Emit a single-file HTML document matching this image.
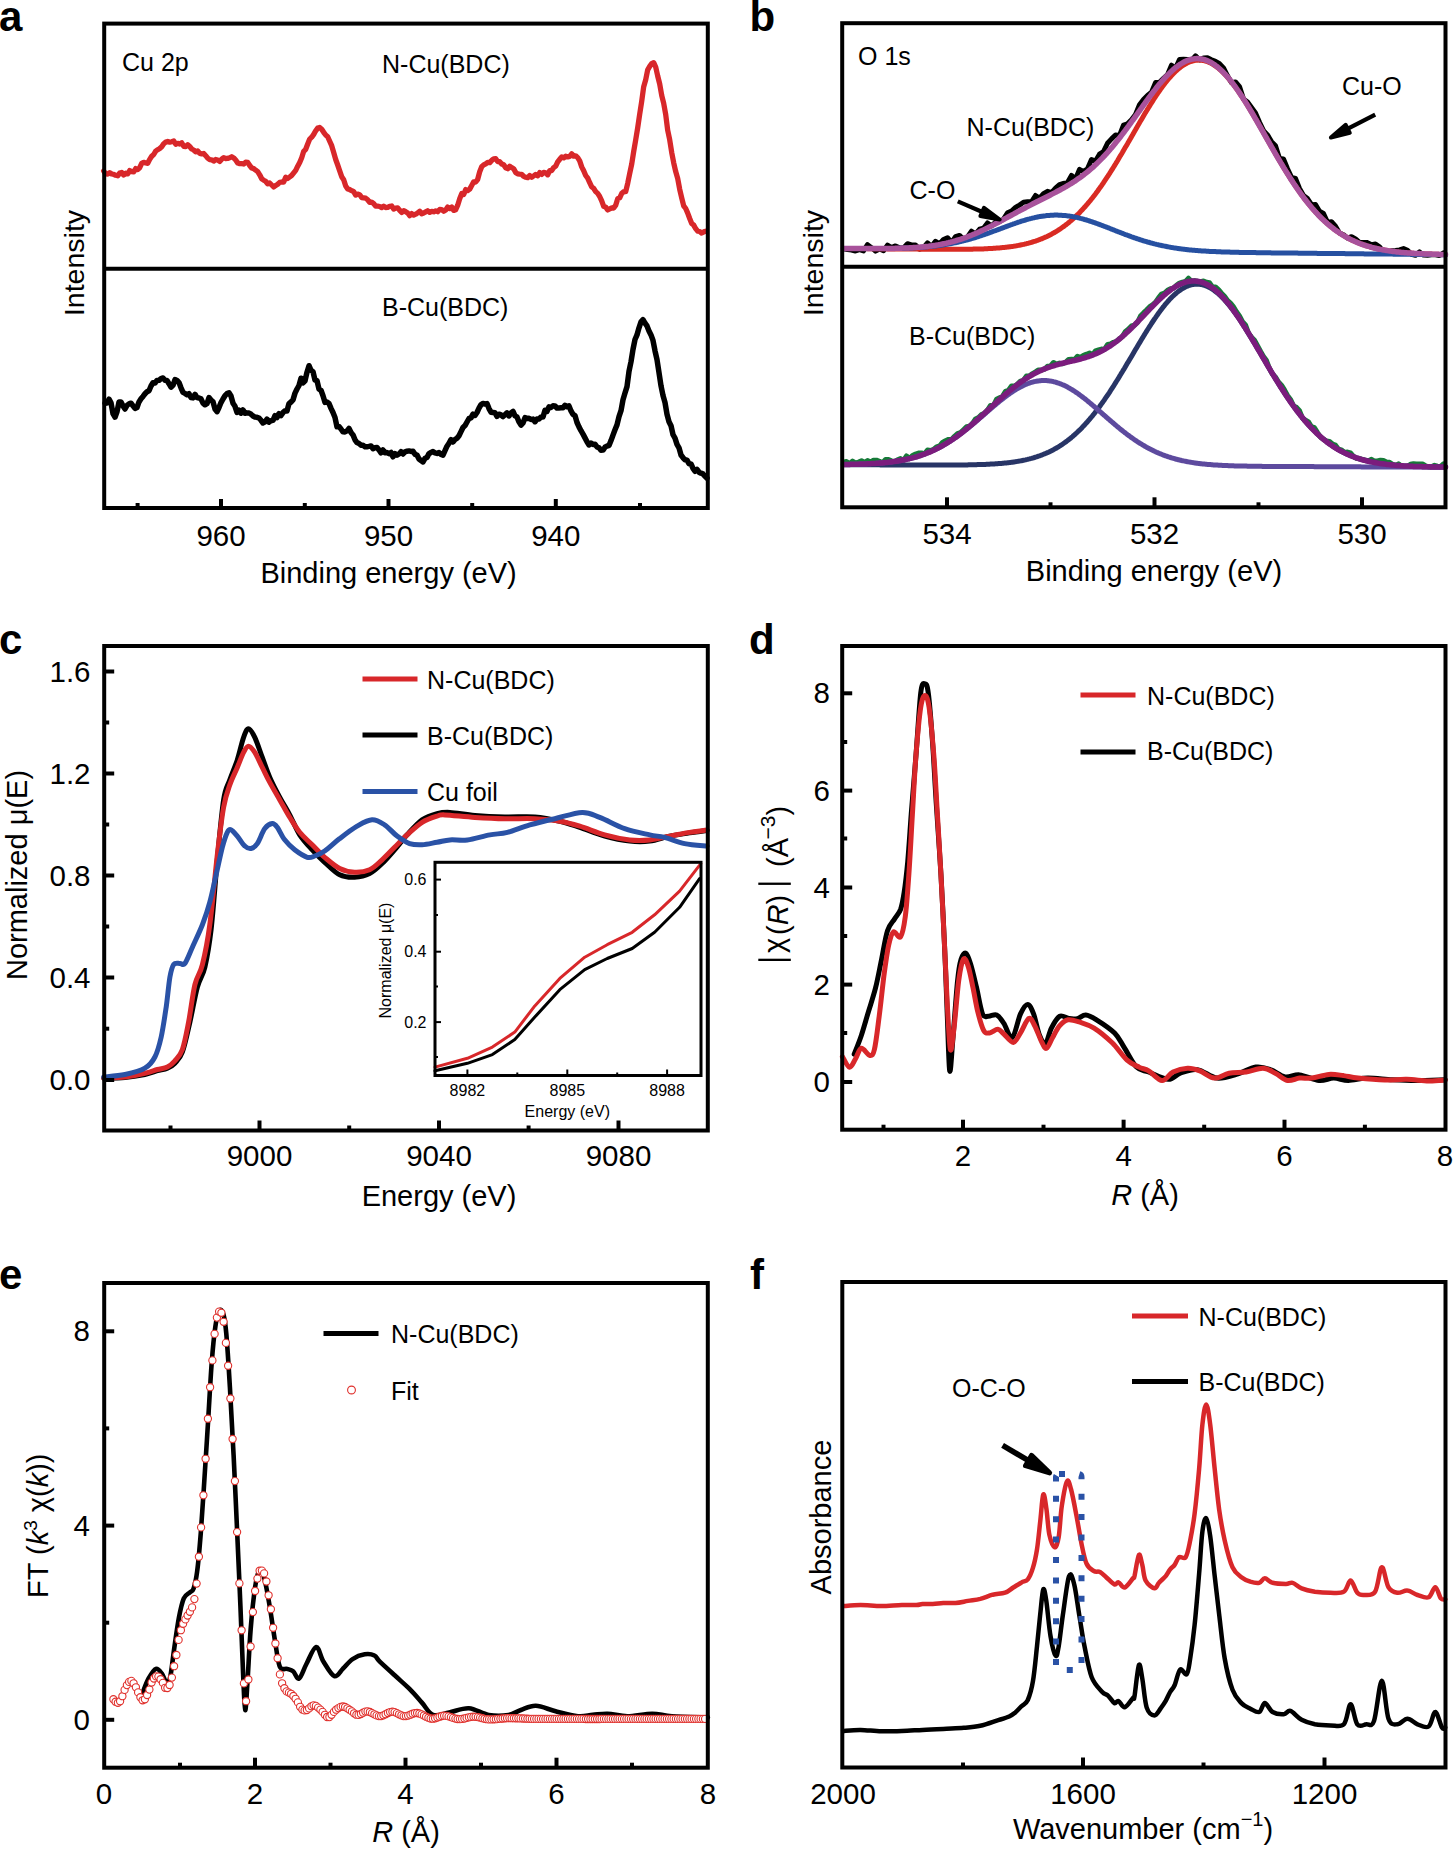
<!DOCTYPE html>
<html><head><meta charset="utf-8"><style>
html,body{margin:0;padding:0;background:#fff;}
svg{display:block;}
text{font-family:"Liberation Sans",sans-serif;fill:#000;}
</style></head><body>
<svg width="1454" height="1853" viewBox="0 0 1454 1853">
<rect width="1454" height="1853" fill="#fff"/>
<text x="-1.0" y="31.0" font-size="42" text-anchor="start" font-weight="bold" >a</text>
<path d="M103.7,171.0 L105.7,173.9 L107.7,174.0 L109.7,172.6 L111.7,174.0 L113.7,174.3 L115.7,175.3 L117.7,175.8 L119.7,173.1 L121.7,172.5 L123.7,175.0 L125.7,173.2 L127.7,173.9 L129.7,170.6 L131.7,171.6 L133.7,171.8 L135.7,168.6 L137.7,169.5 L139.7,167.7 L141.7,163.4 L143.7,162.3 L145.7,163.0 L147.7,163.3 L149.7,159.4 L151.7,156.3 L153.7,154.5 L155.7,151.1 L157.7,149.7 L159.7,148.5 L161.7,146.7 L163.7,143.7 L165.7,142.1 L167.7,141.5 L169.7,142.2 L171.7,141.7 L173.7,141.0 L175.7,144.2 L177.7,143.4 L179.7,144.0 L181.7,142.8 L183.7,146.3 L185.7,146.5 L187.7,144.7 L189.7,146.5 L191.7,149.0 L193.7,150.0 L195.7,151.9 L197.7,151.0 L199.7,153.4 L201.7,153.8 L203.7,153.5 L205.7,155.7 L207.7,158.2 L209.7,159.6 L211.7,159.8 L213.7,161.1 L215.7,159.5 L217.7,160.0 L219.7,161.4 L221.7,159.2 L223.7,157.7 L225.7,158.5 L227.7,158.4 L229.7,157.8 L231.7,156.7 L233.7,157.9 L235.7,160.0 L237.7,163.0 L239.7,163.6 L241.7,163.6 L243.7,164.0 L245.7,162.2 L247.7,162.4 L249.7,165.5 L251.7,168.0 L253.7,168.6 L255.7,170.2 L257.7,171.6 L259.7,174.8 L261.7,178.8 L263.7,180.2 L265.7,181.3 L267.7,183.9 L269.7,183.0 L271.7,185.0 L273.7,187.0 L275.7,185.4 L277.7,184.2 L279.7,182.4 L281.7,182.0 L283.7,182.1 L285.7,177.3 L287.7,178.5 L289.7,177.0 L291.7,175.4 L293.7,172.8 L295.7,170.3 L297.7,166.2 L299.7,162.5 L301.7,157.7 L303.7,151.3 L305.7,149.3 L307.7,144.0 L309.7,139.1 L311.7,137.2 L313.7,134.4 L315.7,130.8 L317.7,128.1 L319.7,127.5 L321.7,129.2 L323.7,132.3 L325.7,135.0 L327.7,136.7 L329.7,141.3 L331.7,145.7 L333.7,152.6 L335.7,159.5 L337.7,165.0 L339.7,170.9 L341.7,176.7 L343.7,179.7 L345.7,186.0 L347.7,188.9 L349.7,189.6 L351.7,190.7 L353.7,191.7 L355.7,195.1 L357.7,194.1 L359.7,194.7 L361.7,197.6 L363.7,197.9 L365.7,198.2 L367.7,199.8 L369.7,202.4 L371.7,202.1 L373.7,203.6 L375.7,206.2 L377.7,206.2 L379.7,206.5 L381.7,207.6 L383.7,206.2 L385.7,207.5 L387.7,207.4 L389.7,206.3 L391.7,206.0 L393.7,209.0 L395.7,208.1 L397.7,207.9 L399.7,210.4 L401.7,212.4 L403.7,210.7 L405.7,211.7 L407.7,213.0 L409.7,215.6 L411.7,213.6 L413.7,215.1 L415.7,214.2 L417.7,212.9 L419.7,211.2 L421.7,213.8 L423.7,213.0 L425.7,211.9 L427.7,210.8 L429.7,212.3 L431.7,211.3 L433.7,211.8 L435.7,210.8 L437.7,211.7 L439.7,209.5 L441.7,209.7 L443.7,211.2 L445.7,210.0 L447.7,207.1 L449.7,208.6 L451.7,207.0 L453.7,210.4 L455.7,209.7 L457.7,205.2 L459.7,198.8 L461.7,193.6 L463.7,194.5 L465.7,189.6 L467.7,190.5 L469.7,189.1 L471.7,185.5 L473.7,181.8 L475.7,182.0 L477.7,179.3 L479.7,171.8 L481.7,166.7 L483.7,164.8 L485.7,163.8 L487.7,162.3 L489.7,162.7 L491.7,160.4 L493.7,158.8 L495.7,158.6 L497.7,161.6 L499.7,161.7 L501.7,164.0 L503.7,164.8 L505.7,167.8 L507.7,168.7 L509.7,166.3 L511.7,167.6 L513.7,168.7 L515.7,172.5 L517.7,173.9 L519.7,174.2 L521.7,174.3 L523.7,176.4 L525.7,177.2 L527.7,177.7 L529.7,175.5 L531.7,177.2 L533.7,175.9 L535.7,174.5 L537.7,175.7 L539.7,172.6 L541.7,174.4 L543.7,172.4 L545.7,172.8 L547.7,174.8 L549.7,170.7 L551.7,170.5 L553.7,167.6 L555.7,166.2 L557.7,161.9 L559.7,159.3 L561.7,157.0 L563.7,157.9 L565.7,156.2 L567.7,156.9 L569.7,156.4 L571.7,153.9 L573.7,156.1 L575.7,155.8 L577.7,157.6 L579.7,160.8 L581.7,166.9 L583.7,170.8 L585.7,175.5 L587.7,178.1 L589.7,182.7 L591.7,186.9 L593.7,188.3 L595.7,191.6 L597.7,193.4 L599.7,196.5 L601.7,200.9 L603.7,206.3 L605.7,207.2 L607.7,209.9 L609.7,208.9 L611.7,208.0 L613.7,208.1 L615.7,205.2 L617.7,198.7 L619.7,197.8 L621.7,193.5 L623.7,191.6 L625.7,191.7 L627.7,183.3 L629.7,173.4 L631.7,164.1 L633.7,151.5 L635.7,139.9 L637.7,127.8 L639.7,114.2 L641.7,101.3 L643.7,86.7 L645.7,79.7 L647.7,69.8 L649.7,66.4 L651.7,63.7 L653.7,62.7 L655.7,67.0 L657.7,76.0 L659.7,84.0 L661.7,95.4 L663.7,103.4 L665.7,114.5 L667.7,130.3 L669.7,139.8 L671.7,152.4 L673.7,162.8 L675.7,171.6 L677.7,178.6 L679.7,189.3 L681.7,197.8 L683.7,205.8 L685.7,208.5 L687.7,213.1 L689.7,218.5 L691.7,223.4 L693.7,225.1 L695.7,228.7 L697.7,231.2 L699.7,231.5 L701.7,233.1 L703.7,231.9 L705.7,231.3" fill="none" stroke="#d8272a" stroke-width="5.3" stroke-linejoin="round" stroke-linecap="round" />
<path d="M105.0,403.3 L107.0,403.1 L109.0,399.2 L111.0,402.8 L113.0,413.7 L115.0,417.2 L117.0,411.8 L119.0,402.1 L121.0,401.9 L123.0,406.0 L125.0,409.0 L127.0,405.4 L129.0,403.9 L131.0,403.2 L133.0,405.9 L135.0,408.4 L137.0,407.5 L139.0,401.9 L141.0,398.8 L143.0,396.4 L145.0,393.8 L147.0,391.8 L149.0,390.8 L151.0,386.0 L153.0,382.7 L155.0,383.1 L157.0,380.4 L159.0,380.3 L161.0,378.6 L163.0,378.0 L165.0,380.3 L167.0,380.5 L169.0,383.7 L171.0,387.1 L173.0,385.3 L175.0,379.6 L177.0,380.5 L179.0,382.6 L181.0,387.8 L183.0,392.4 L185.0,393.4 L187.0,394.8 L189.0,393.7 L191.0,397.5 L193.0,397.9 L195.0,394.3 L197.0,397.6 L199.0,398.0 L201.0,398.8 L203.0,403.1 L205.0,404.8 L207.0,403.7 L209.0,397.6 L211.0,400.0 L213.0,401.8 L215.0,409.0 L217.0,411.7 L219.0,407.6 L221.0,402.6 L223.0,399.0 L225.0,395.7 L227.0,393.6 L229.0,392.8 L231.0,396.0 L233.0,403.3 L235.0,406.3 L237.0,412.5 L239.0,410.1 L241.0,413.1 L243.0,410.0 L245.0,413.3 L247.0,412.9 L249.0,413.0 L251.0,414.2 L253.0,416.0 L255.0,417.1 L257.0,417.3 L259.0,418.0 L261.0,420.3 L263.0,423.0 L265.0,421.8 L267.0,419.1 L269.0,422.1 L271.0,420.7 L273.0,420.4 L275.0,415.7 L277.0,417.6 L279.0,413.6 L281.0,415.5 L283.0,412.6 L285.0,410.7 L287.0,410.9 L289.0,403.6 L291.0,402.0 L293.0,399.9 L295.0,393.1 L297.0,389.0 L299.0,385.5 L301.0,378.2 L303.0,382.9 L305.0,380.8 L307.0,372.2 L309.0,365.7 L311.0,370.3 L313.0,371.7 L315.0,380.2 L317.0,380.7 L319.0,389.2 L321.0,390.3 L323.0,395.8 L325.0,402.4 L327.0,402.1 L329.0,403.5 L331.0,408.4 L333.0,412.5 L335.0,417.5 L337.0,426.8 L339.0,426.6 L341.0,429.0 L343.0,431.8 L345.0,431.9 L347.0,430.9 L349.0,428.4 L351.0,432.5 L353.0,434.9 L355.0,439.8 L357.0,442.6 L359.0,443.5 L361.0,445.2 L363.0,445.3 L365.0,446.7 L367.0,446.7 L369.0,446.4 L371.0,445.9 L373.0,448.7 L375.0,447.8 L377.0,447.5 L379.0,450.0 L381.0,452.8 L383.0,450.0 L385.0,452.8 L387.0,452.5 L389.0,453.7 L391.0,452.5 L393.0,456.8 L395.0,453.6 L397.0,455.2 L399.0,454.0 L401.0,451.7 L403.0,454.0 L405.0,451.8 L407.0,451.2 L409.0,450.9 L411.0,451.4 L413.0,451.2 L415.0,454.3 L417.0,455.0 L419.0,459.0 L421.0,460.5 L423.0,461.9 L425.0,458.3 L427.0,457.5 L429.0,453.6 L431.0,452.5 L433.0,451.6 L435.0,452.8 L437.0,453.4 L439.0,452.6 L441.0,454.4 L443.0,455.1 L445.0,450.7 L447.0,446.2 L449.0,443.3 L451.0,439.6 L453.0,442.0 L455.0,439.6 L457.0,438.2 L459.0,435.7 L461.0,431.6 L463.0,427.5 L465.0,425.6 L467.0,422.0 L469.0,418.5 L471.0,417.9 L473.0,414.1 L475.0,415.4 L477.0,412.5 L479.0,408.2 L481.0,404.6 L483.0,403.5 L485.0,404.0 L487.0,403.6 L489.0,408.6 L491.0,412.2 L493.0,412.5 L495.0,412.8 L497.0,416.4 L499.0,414.2 L501.0,414.9 L503.0,416.6 L505.0,414.7 L507.0,412.8 L509.0,415.9 L511.0,412.9 L513.0,411.4 L515.0,415.9 L517.0,416.9 L519.0,421.9 L521.0,425.1 L523.0,422.9 L525.0,417.7 L527.0,418.4 L529.0,418.3 L531.0,419.5 L533.0,419.1 L535.0,421.7 L537.0,419.1 L539.0,418.9 L541.0,417.0 L543.0,417.0 L545.0,410.2 L547.0,411.3 L549.0,406.9 L551.0,407.4 L553.0,405.8 L555.0,405.9 L557.0,408.1 L559.0,407.9 L561.0,407.8 L563.0,407.7 L565.0,405.3 L567.0,406.7 L569.0,405.9 L571.0,410.9 L573.0,414.4 L575.0,415.6 L577.0,422.5 L579.0,426.9 L581.0,430.7 L583.0,434.1 L585.0,437.9 L587.0,441.8 L589.0,444.9 L591.0,443.0 L593.0,444.4 L595.0,444.3 L597.0,446.9 L599.0,447.8 L601.0,450.2 L603.0,450.1 L605.0,447.2 L607.0,446.0 L609.0,445.6 L611.0,440.6 L613.0,435.1 L615.0,429.8 L617.0,424.9 L619.0,416.7 L621.0,410.7 L623.0,399.8 L625.0,393.0 L627.0,386.7 L629.0,371.4 L631.0,361.7 L633.0,349.4 L635.0,339.5 L637.0,334.9 L639.0,327.8 L641.0,321.9 L643.0,319.7 L645.0,323.1 L647.0,325.9 L649.0,331.0 L651.0,334.9 L653.0,340.4 L655.0,350.8 L657.0,359.7 L659.0,372.7 L661.0,385.8 L663.0,395.5 L665.0,402.5 L667.0,414.2 L669.0,421.7 L671.0,425.7 L673.0,434.7 L675.0,438.1 L677.0,444.4 L679.0,447.8 L681.0,455.0 L683.0,457.7 L685.0,459.7 L687.0,460.1 L689.0,463.8 L691.0,463.9 L693.0,468.4 L695.0,471.3 L697.0,469.4 L699.0,472.2 L701.0,473.2 L703.0,473.9 L705.0,476.3 L707.0,478.1" fill="none" stroke="#000" stroke-width="5.5" stroke-linejoin="round" stroke-linecap="round" />
<rect x="104.2" y="23.6" width="603.6" height="484.4" fill="none" stroke="#000" stroke-width="4" stroke-linejoin="miter"/>
<line x1="104.2" y1="268.7" x2="707.8" y2="268.7" stroke="#000" stroke-width="4" stroke-linecap="butt"/>
<line x1="221.0" y1="508.0" x2="221.0" y2="499.0" stroke="#000" stroke-width="4" stroke-linecap="butt"/>
<line x1="388.5" y1="508.0" x2="388.5" y2="499.0" stroke="#000" stroke-width="4" stroke-linecap="butt"/>
<line x1="555.8" y1="508.0" x2="555.8" y2="499.0" stroke="#000" stroke-width="4" stroke-linecap="butt"/>
<line x1="137.6" y1="508.0" x2="137.6" y2="503.0" stroke="#000" stroke-width="4" stroke-linecap="butt"/>
<line x1="304.8" y1="508.0" x2="304.8" y2="503.0" stroke="#000" stroke-width="4" stroke-linecap="butt"/>
<line x1="472.2" y1="508.0" x2="472.2" y2="503.0" stroke="#000" stroke-width="4" stroke-linecap="butt"/>
<line x1="640.0" y1="508.0" x2="640.0" y2="503.0" stroke="#000" stroke-width="4" stroke-linecap="butt"/>
<text x="122.0" y="71.0" font-size="25" text-anchor="start" >Cu 2p</text>
<text x="382.0" y="72.5" font-size="25" text-anchor="start" >N-Cu(BDC)</text>
<text x="382.0" y="316.0" font-size="25" text-anchor="start" >B-Cu(BDC)</text>
<text x="221.0" y="545.5" font-size="29.5" text-anchor="middle" >960</text>
<text x="388.5" y="545.5" font-size="29.5" text-anchor="middle" >950</text>
<text x="555.8" y="545.5" font-size="29.5" text-anchor="middle" >940</text>
<text x="388.6" y="583.2" font-size="29" text-anchor="middle" >Binding energy (eV)</text>
<text x="0" y="0" font-size="28.5" text-anchor="middle" transform="translate(84.0,263.0) rotate(-90)" >Intensity</text>
<text x="749.5" y="31.0" font-size="42" text-anchor="start" font-weight="bold" >b</text>
<path d="M843.5,248.7 L847.5,249.6 L851.5,250.0 L855.5,251.0 L859.5,249.6 L863.5,250.9 L867.5,244.7 L871.5,247.7 L875.5,251.1 L879.5,249.0 L883.5,250.7 L887.5,245.1 L891.5,247.6 L895.5,245.9 L899.5,247.8 L903.5,247.9 L907.5,243.7 L911.5,244.9 L915.5,245.0 L919.5,249.1 L923.5,247.6 L927.5,242.8 L931.5,246.6 L935.5,241.3 L939.5,243.9 L943.5,239.5 L947.5,237.7 L951.5,242.6 L955.5,236.7 L959.5,235.4 L963.5,239.3 L967.5,237.0 L971.5,231.2 L975.5,234.1 L979.5,229.3 L983.5,228.3 L987.5,222.9 L991.5,226.0 L995.5,222.1 L999.5,221.8 L1003.5,219.1 L1007.5,212.8 L1011.5,211.0 L1015.5,207.4 L1019.5,205.1 L1023.5,202.3 L1027.5,201.8 L1031.5,201.8 L1035.5,195.5 L1039.5,198.1 L1043.5,193.6 L1047.5,191.3 L1051.5,192.7 L1055.5,188.1 L1059.5,184.6 L1063.5,183.4 L1067.5,182.5 L1071.5,175.4 L1075.5,179.0 L1079.5,169.4 L1083.5,171.4 L1087.5,168.8 L1091.5,159.5 L1095.5,161.1 L1099.5,154.2 L1103.5,151.6 L1107.5,143.2 L1111.5,138.9 L1115.5,135.0 L1119.5,135.5 L1123.5,125.1 L1127.5,123.8 L1131.5,119.7 L1135.5,114.4 L1139.5,104.8 L1143.5,99.6 L1147.5,95.5 L1151.5,92.2 L1155.5,82.6 L1159.5,82.3 L1163.5,78.3 L1167.5,74.7 L1171.5,65.2 L1175.5,68.4 L1179.5,59.6 L1183.5,59.2 L1187.5,59.4 L1191.5,60.4 L1195.5,55.8 L1199.5,60.0 L1203.5,58.1 L1207.5,57.8 L1211.5,59.7 L1215.5,61.3 L1219.5,63.7 L1223.5,67.9 L1227.5,75.8 L1231.5,82.7 L1235.5,81.9 L1239.5,86.6 L1243.5,99.0 L1247.5,102.0 L1251.5,107.5 L1255.5,112.9 L1259.5,122.2 L1263.5,130.6 L1267.5,134.9 L1271.5,141.6 L1275.5,145.8 L1279.5,158.6 L1283.5,159.0 L1287.5,168.7 L1291.5,177.4 L1295.5,178.5 L1299.5,188.5 L1303.5,195.6 L1307.5,198.6 L1311.5,204.7 L1315.5,204.6 L1319.5,211.3 L1323.5,213.5 L1327.5,222.2 L1331.5,221.8 L1335.5,226.2 L1339.5,233.0 L1343.5,234.7 L1347.5,238.1 L1351.5,236.7 L1355.5,239.0 L1359.5,242.5 L1363.5,242.4 L1367.5,242.6 L1371.5,244.7 L1375.5,244.0 L1379.5,246.7 L1383.5,251.8 L1387.5,252.4 L1391.5,250.8 L1395.5,250.5 L1399.5,249.9 L1403.5,248.6 L1407.5,250.3 L1411.5,254.2 L1415.5,255.2 L1419.5,251.9 L1423.5,255.1 L1427.5,255.2 L1431.5,254.8 L1435.5,254.7 L1439.5,255.5 L1443.5,252.9" fill="none" stroke="#000" stroke-width="5" stroke-linejoin="round" stroke-linecap="round" />
<path d="M843.5,248.4 L844.5,248.4 L845.5,248.4 L846.5,248.4 L847.5,248.4 L848.5,248.5 L849.5,248.5 L850.5,248.5 L851.5,248.5 L852.5,248.5 L853.5,248.5 L854.5,248.5 L855.5,248.5 L856.5,248.5 L857.5,248.5 L858.5,248.6 L859.5,248.6 L860.5,248.6 L861.5,248.6 L862.5,248.6 L863.5,248.6 L864.5,248.6 L865.5,248.6 L866.5,248.6 L867.5,248.7 L868.5,248.7 L869.5,248.7 L870.5,248.7 L871.5,248.7 L872.5,248.7 L873.5,248.7 L874.5,248.7 L875.5,248.7 L876.5,248.7 L877.5,248.8 L878.5,248.8 L879.5,248.8 L880.5,248.8 L881.5,248.8 L882.5,248.8 L883.5,248.8 L884.5,248.8 L885.5,248.8 L886.5,248.8 L887.5,248.9 L888.5,248.9 L889.5,248.9 L890.5,248.9 L891.5,248.9 L892.5,248.9 L893.5,248.9 L894.5,248.9 L895.5,248.9 L896.5,248.9 L897.5,249.0 L898.5,249.0 L899.5,249.0 L900.5,249.0 L901.5,249.0 L902.5,249.0 L903.5,249.0 L904.5,249.0 L905.5,249.0 L906.5,249.0 L907.5,249.1 L908.5,249.1 L909.5,249.1 L910.5,249.1 L911.5,249.1 L912.5,249.1 L913.5,249.1 L914.5,249.1 L915.5,249.1 L916.5,249.1 L917.5,249.1 L918.5,249.2 L919.5,249.2 L920.5,249.2 L921.5,249.2 L922.5,249.2 L923.5,249.2 L924.5,249.2 L925.5,249.2 L926.5,249.2 L927.5,249.2 L928.5,249.2 L929.5,249.2 L930.5,249.3 L931.5,249.3 L932.5,249.3 L933.5,249.3 L934.5,249.3 L935.5,249.3 L936.5,249.3 L937.5,249.3 L938.5,249.3 L939.5,249.3 L940.5,249.3 L941.5,249.3 L942.5,249.3 L943.5,249.3 L944.5,249.3 L945.5,249.3 L946.5,249.3 L947.5,249.3 L948.5,249.3 L949.5,249.3 L950.5,249.3 L951.5,249.3 L952.5,249.3 L953.5,249.3 L954.5,249.3 L955.5,249.3 L956.5,249.3 L957.5,249.3 L958.5,249.3 L959.5,249.3 L960.5,249.3 L961.5,249.3 L962.5,249.3 L963.5,249.3 L964.5,249.3 L965.5,249.3 L966.5,249.3 L967.5,249.2 L968.5,249.2 L969.5,249.2 L970.5,249.2 L971.5,249.2 L972.5,249.2 L973.5,249.1 L974.5,249.1 L975.5,249.1 L976.5,249.1 L977.5,249.1 L978.5,249.0 L979.5,249.0 L980.5,249.0 L981.5,248.9 L982.5,248.9 L983.5,248.9 L984.5,248.8 L985.5,248.8 L986.5,248.7 L987.5,248.7 L988.5,248.6 L989.5,248.6 L990.5,248.5 L991.5,248.5 L992.5,248.4 L993.5,248.3 L994.5,248.3 L995.5,248.2 L996.5,248.1 L997.5,248.1 L998.5,248.0 L999.5,247.9 L1000.5,247.8 L1001.5,247.7 L1002.5,247.6 L1003.5,247.5 L1004.5,247.4 L1005.5,247.3 L1006.5,247.2 L1007.5,247.1 L1008.5,247.0 L1009.5,246.8 L1010.5,246.7 L1011.5,246.6 L1012.5,246.4 L1013.5,246.3 L1014.5,246.1 L1015.5,245.9 L1016.5,245.8 L1017.5,245.6 L1018.5,245.4 L1019.5,245.2 L1020.5,245.0 L1021.5,244.8 L1022.5,244.6 L1023.5,244.4 L1024.5,244.2 L1025.5,243.9 L1026.5,243.7 L1027.5,243.4 L1028.5,243.2 L1029.5,242.9 L1030.5,242.6 L1031.5,242.3 L1032.5,242.0 L1033.5,241.7 L1034.5,241.4 L1035.5,241.1 L1036.5,240.7 L1037.5,240.4 L1038.5,240.0 L1039.5,239.6 L1040.5,239.2 L1041.5,238.9 L1042.5,238.4 L1043.5,238.0 L1044.5,237.6 L1045.5,237.1 L1046.5,236.7 L1047.5,236.2 L1048.5,235.7 L1049.5,235.2 L1050.5,234.7 L1051.5,234.2 L1052.5,233.6 L1053.5,233.1 L1054.5,232.5 L1055.5,231.9 L1056.5,231.3 L1057.5,230.7 L1058.5,230.0 L1059.5,229.4 L1060.5,228.7 L1061.5,228.0 L1062.5,227.3 L1063.5,226.6 L1064.5,225.9 L1065.5,225.1 L1066.5,224.4 L1067.5,223.6 L1068.5,222.8 L1069.5,221.9 L1070.5,221.1 L1071.5,220.2 L1072.5,219.4 L1073.5,218.5 L1074.5,217.5 L1075.5,216.6 L1076.5,215.6 L1077.5,214.7 L1078.5,213.7 L1079.5,212.7 L1080.5,211.6 L1081.5,210.6 L1082.5,209.5 L1083.5,208.4 L1084.5,207.3 L1085.5,206.2 L1086.5,205.0 L1087.5,203.9 L1088.5,202.7 L1089.5,201.5 L1090.5,200.3 L1091.5,199.0 L1092.5,197.8 L1093.5,196.5 L1094.5,195.2 L1095.5,193.9 L1096.5,192.5 L1097.5,191.2 L1098.5,189.8 L1099.5,188.4 L1100.5,187.0 L1101.5,185.6 L1102.5,184.1 L1103.5,182.7 L1104.5,181.2 L1105.5,179.7 L1106.5,178.2 L1107.5,176.7 L1108.5,175.1 L1109.5,173.6 L1110.5,172.0 L1111.5,170.4 L1112.5,168.8 L1113.5,167.2 L1114.5,165.6 L1115.5,164.0 L1116.5,162.3 L1117.5,160.7 L1118.5,159.0 L1119.5,157.3 L1120.5,155.6 L1121.5,154.0 L1122.5,152.3 L1123.5,150.5 L1124.5,148.8 L1125.5,147.1 L1126.5,145.4 L1127.5,143.7 L1128.5,141.9 L1129.5,140.2 L1130.5,138.5 L1131.5,136.7 L1132.5,135.0 L1133.5,133.2 L1134.5,131.5 L1135.5,129.8 L1136.5,128.0 L1137.5,126.3 L1138.5,124.6 L1139.5,122.8 L1140.5,121.1 L1141.5,119.4 L1142.5,117.7 L1143.5,116.0 L1144.5,114.3 L1145.5,112.6 L1146.5,111.0 L1147.5,109.3 L1148.5,107.7 L1149.5,106.1 L1150.5,104.5 L1151.5,102.9 L1152.5,101.3 L1153.5,99.7 L1154.5,98.2 L1155.5,96.6 L1156.5,95.1 L1157.5,93.7 L1158.5,92.2 L1159.5,90.8 L1160.5,89.3 L1161.5,88.0 L1162.5,86.6 L1163.5,85.2 L1164.5,83.9 L1165.5,82.6 L1166.5,81.4 L1167.5,80.2 L1168.5,79.0 L1169.5,77.8 L1170.5,76.7 L1171.5,75.6 L1172.5,74.5 L1173.5,73.5 L1174.5,72.5 L1175.5,71.5 L1176.5,70.6 L1177.5,69.7 L1178.5,68.8 L1179.5,68.0 L1180.5,67.2 L1181.5,66.5 L1182.5,65.8 L1183.5,65.1 L1184.5,64.5 L1185.5,63.9 L1186.5,63.4 L1187.5,62.8 L1188.5,62.4 L1189.5,62.0 L1190.5,61.6 L1191.5,61.3 L1192.5,61.0 L1193.5,60.7 L1194.5,60.5 L1195.5,60.3 L1196.5,60.2 L1197.5,60.2 L1198.5,60.1 L1199.5,60.1 L1200.5,60.2 L1201.5,60.3 L1202.5,60.4 L1203.5,60.6 L1204.5,60.8 L1205.5,61.1 L1206.5,61.4 L1207.5,61.8 L1208.5,62.2 L1209.5,62.6 L1210.5,63.1 L1211.5,63.6 L1212.5,64.2 L1213.5,64.8 L1214.5,65.4 L1215.5,66.1 L1216.5,66.8 L1217.5,67.6 L1218.5,68.4 L1219.5,69.2 L1220.5,70.1 L1221.5,71.0 L1222.5,72.0 L1223.5,73.0 L1224.5,74.0 L1225.5,75.1 L1226.5,76.1 L1227.5,77.3 L1228.5,78.4 L1229.5,79.6 L1230.5,80.8 L1231.5,82.1 L1232.5,83.4 L1233.5,84.7 L1234.5,86.0 L1235.5,87.4 L1236.5,88.7 L1237.5,90.1 L1238.5,91.6 L1239.5,93.0 L1240.5,94.5 L1241.5,96.0 L1242.5,97.6 L1243.5,99.1 L1244.5,100.7 L1245.5,102.2 L1246.5,103.8 L1247.5,105.5 L1248.5,107.1 L1249.5,108.7 L1250.5,110.4 L1251.5,112.1 L1252.5,113.8 L1253.5,115.5 L1254.5,117.2 L1255.5,118.9 L1256.5,120.6 L1257.5,122.3 L1258.5,124.1 L1259.5,125.8 L1260.5,127.6 L1261.5,129.3 L1262.5,131.1 L1263.5,132.8 L1264.5,134.6 L1265.5,136.4 L1266.5,138.1 L1267.5,139.9 L1268.5,141.6 L1269.5,143.4 L1270.5,145.2 L1271.5,146.9 L1272.5,148.6 L1273.5,150.4 L1274.5,152.1 L1275.5,153.9 L1276.5,155.6 L1277.5,157.3 L1278.5,159.0 L1279.5,160.7 L1280.5,162.4 L1281.5,164.0 L1282.5,165.7 L1283.5,167.4 L1284.5,169.0 L1285.5,170.6 L1286.5,172.2 L1287.5,173.8 L1288.5,175.4 L1289.5,177.0 L1290.5,178.6 L1291.5,180.1 L1292.5,181.6 L1293.5,183.2 L1294.5,184.7 L1295.5,186.1 L1296.5,187.6 L1297.5,189.0 L1298.5,190.5 L1299.5,191.9 L1300.5,193.3 L1301.5,194.7 L1302.5,196.0 L1303.5,197.4 L1304.5,198.7 L1305.5,200.0 L1306.5,201.3 L1307.5,202.5 L1308.5,203.8 L1309.5,205.0 L1310.5,206.2 L1311.5,207.4 L1312.5,208.6 L1313.5,209.7 L1314.5,210.8 L1315.5,212.0 L1316.5,213.0 L1317.5,214.1 L1318.5,215.2 L1319.5,216.2 L1320.5,217.2 L1321.5,218.2 L1322.5,219.2 L1323.5,220.1 L1324.5,221.1 L1325.5,222.0 L1326.5,222.9 L1327.5,223.8 L1328.5,224.6 L1329.5,225.5 L1330.5,226.3 L1331.5,227.1 L1332.5,227.9 L1333.5,228.7 L1334.5,229.5 L1335.5,230.2 L1336.5,230.9 L1337.5,231.6 L1338.5,232.3 L1339.5,233.0 L1340.5,233.6 L1341.5,234.3 L1342.5,234.9 L1343.5,235.5 L1344.5,236.1 L1345.5,236.7 L1346.5,237.3 L1347.5,237.8 L1348.5,238.3 L1349.5,238.9 L1350.5,239.4 L1351.5,239.9 L1352.5,240.4 L1353.5,240.8 L1354.5,241.3 L1355.5,241.7 L1356.5,242.1 L1357.5,242.6 L1358.5,243.0 L1359.5,243.4 L1360.5,243.8 L1361.5,244.1 L1362.5,244.5 L1363.5,244.8 L1364.5,245.2 L1365.5,245.5 L1366.5,245.8 L1367.5,246.1 L1368.5,246.4 L1369.5,246.7 L1370.5,247.0 L1371.5,247.3 L1372.5,247.6 L1373.5,247.8 L1374.5,248.1 L1375.5,248.3 L1376.5,248.5 L1377.5,248.8 L1378.5,249.0 L1379.5,249.2 L1380.5,249.4 L1381.5,249.6 L1382.5,249.8 L1383.5,250.0 L1384.5,250.1 L1385.5,250.3 L1386.5,250.5 L1387.5,250.6 L1388.5,250.8 L1389.5,250.9 L1390.5,251.1 L1391.5,251.2 L1392.5,251.4 L1393.5,251.5 L1394.5,251.6 L1395.5,251.7 L1396.5,251.9 L1397.5,252.0 L1398.5,252.1 L1399.5,252.2 L1400.5,252.3 L1401.5,252.4 L1402.5,252.5 L1403.5,252.6 L1404.5,252.7 L1405.5,252.7 L1406.5,252.8 L1407.5,252.9 L1408.5,253.0 L1409.5,253.0 L1410.5,253.1 L1411.5,253.2 L1412.5,253.2 L1413.5,253.3 L1414.5,253.4 L1415.5,253.4 L1416.5,253.5 L1417.5,253.5 L1418.5,253.6 L1419.5,253.6 L1420.5,253.7 L1421.5,253.7 L1422.5,253.8 L1423.5,253.8 L1424.5,253.9 L1425.5,253.9 L1426.5,253.9 L1427.5,254.0 L1428.5,254.0 L1429.5,254.1 L1430.5,254.1 L1431.5,254.1 L1432.5,254.2 L1433.5,254.2 L1434.5,254.2 L1435.5,254.3 L1436.5,254.3 L1437.5,254.3 L1438.5,254.3 L1439.5,254.4 L1440.5,254.4 L1441.5,254.4 L1442.5,254.4 L1443.5,254.5 L1444.5,254.5 L1445.5,254.5" fill="none" stroke="#d92b23" stroke-width="5" stroke-linejoin="round" stroke-linecap="round" />
<path d="M843.5,248.4 L844.5,248.4 L845.5,248.4 L846.5,248.4 L847.5,248.4 L848.5,248.4 L849.5,248.4 L850.5,248.4 L851.5,248.4 L852.5,248.4 L853.5,248.5 L854.5,248.5 L855.5,248.5 L856.5,248.5 L857.5,248.5 L858.5,248.5 L859.5,248.5 L860.5,248.5 L861.5,248.5 L862.5,248.5 L863.5,248.5 L864.5,248.5 L865.5,248.5 L866.5,248.5 L867.5,248.5 L868.5,248.5 L869.5,248.5 L870.5,248.5 L871.5,248.5 L872.5,248.5 L873.5,248.5 L874.5,248.5 L875.5,248.5 L876.5,248.5 L877.5,248.5 L878.5,248.5 L879.5,248.5 L880.5,248.5 L881.5,248.5 L882.5,248.5 L883.5,248.5 L884.5,248.5 L885.5,248.5 L886.5,248.5 L887.5,248.5 L888.5,248.5 L889.5,248.5 L890.5,248.5 L891.5,248.5 L892.5,248.4 L893.5,248.4 L894.5,248.4 L895.5,248.4 L896.5,248.4 L897.5,248.4 L898.5,248.3 L899.5,248.3 L900.5,248.3 L901.5,248.3 L902.5,248.2 L903.5,248.2 L904.5,248.2 L905.5,248.1 L906.5,248.1 L907.5,248.1 L908.5,248.0 L909.5,248.0 L910.5,247.9 L911.5,247.9 L912.5,247.9 L913.5,247.8 L914.5,247.7 L915.5,247.7 L916.5,247.6 L917.5,247.6 L918.5,247.5 L919.5,247.5 L920.5,247.4 L921.5,247.3 L922.5,247.2 L923.5,247.2 L924.5,247.1 L925.5,247.0 L926.5,246.9 L927.5,246.8 L928.5,246.7 L929.5,246.6 L930.5,246.5 L931.5,246.4 L932.5,246.3 L933.5,246.2 L934.5,246.1 L935.5,246.0 L936.5,245.9 L937.5,245.7 L938.5,245.6 L939.5,245.5 L940.5,245.3 L941.5,245.2 L942.5,245.0 L943.5,244.9 L944.5,244.7 L945.5,244.6 L946.5,244.4 L947.5,244.2 L948.5,244.1 L949.5,243.9 L950.5,243.7 L951.5,243.5 L952.5,243.3 L953.5,243.1 L954.5,242.9 L955.5,242.7 L956.5,242.5 L957.5,242.3 L958.5,242.0 L959.5,241.8 L960.5,241.6 L961.5,241.3 L962.5,241.1 L963.5,240.8 L964.5,240.6 L965.5,240.3 L966.5,240.1 L967.5,239.8 L968.5,239.5 L969.5,239.2 L970.5,239.0 L971.5,238.7 L972.5,238.4 L973.5,238.1 L974.5,237.8 L975.5,237.5 L976.5,237.2 L977.5,236.8 L978.5,236.5 L979.5,236.2 L980.5,235.9 L981.5,235.5 L982.5,235.2 L983.5,234.9 L984.5,234.5 L985.5,234.2 L986.5,233.8 L987.5,233.5 L988.5,233.1 L989.5,232.8 L990.5,232.4 L991.5,232.0 L992.5,231.7 L993.5,231.3 L994.5,230.9 L995.5,230.6 L996.5,230.2 L997.5,229.8 L998.5,229.5 L999.5,229.1 L1000.5,228.7 L1001.5,228.3 L1002.5,228.0 L1003.5,227.6 L1004.5,227.2 L1005.5,226.8 L1006.5,226.5 L1007.5,226.1 L1008.5,225.7 L1009.5,225.4 L1010.5,225.0 L1011.5,224.6 L1012.5,224.3 L1013.5,223.9 L1014.5,223.6 L1015.5,223.2 L1016.5,222.9 L1017.5,222.5 L1018.5,222.2 L1019.5,221.9 L1020.5,221.5 L1021.5,221.2 L1022.5,220.9 L1023.5,220.6 L1024.5,220.3 L1025.5,220.0 L1026.5,219.7 L1027.5,219.4 L1028.5,219.1 L1029.5,218.9 L1030.5,218.6 L1031.5,218.4 L1032.5,218.1 L1033.5,217.9 L1034.5,217.7 L1035.5,217.4 L1036.5,217.2 L1037.5,217.0 L1038.5,216.8 L1039.5,216.6 L1040.5,216.5 L1041.5,216.3 L1042.5,216.2 L1043.5,216.0 L1044.5,215.9 L1045.5,215.8 L1046.5,215.6 L1047.5,215.5 L1048.5,215.5 L1049.5,215.4 L1050.5,215.3 L1051.5,215.2 L1052.5,215.2 L1053.5,215.2 L1054.5,215.1 L1055.5,215.1 L1056.5,215.1 L1057.5,215.1 L1058.5,215.2 L1059.5,215.2 L1060.5,215.2 L1061.5,215.3 L1062.5,215.4 L1063.5,215.4 L1064.5,215.5 L1065.5,215.6 L1066.5,215.7 L1067.5,215.9 L1068.5,216.0 L1069.5,216.1 L1070.5,216.3 L1071.5,216.5 L1072.5,216.6 L1073.5,216.8 L1074.5,217.0 L1075.5,217.2 L1076.5,217.4 L1077.5,217.6 L1078.5,217.9 L1079.5,218.1 L1080.5,218.4 L1081.5,218.6 L1082.5,218.9 L1083.5,219.2 L1084.5,219.5 L1085.5,219.7 L1086.5,220.0 L1087.5,220.3 L1088.5,220.7 L1089.5,221.0 L1090.5,221.3 L1091.5,221.6 L1092.5,222.0 L1093.5,222.3 L1094.5,222.7 L1095.5,223.0 L1096.5,223.4 L1097.5,223.7 L1098.5,224.1 L1099.5,224.5 L1100.5,224.8 L1101.5,225.2 L1102.5,225.6 L1103.5,226.0 L1104.5,226.4 L1105.5,226.7 L1106.5,227.1 L1107.5,227.5 L1108.5,227.9 L1109.5,228.3 L1110.5,228.7 L1111.5,229.1 L1112.5,229.5 L1113.5,229.9 L1114.5,230.3 L1115.5,230.7 L1116.5,231.1 L1117.5,231.5 L1118.5,231.9 L1119.5,232.2 L1120.5,232.6 L1121.5,233.0 L1122.5,233.4 L1123.5,233.8 L1124.5,234.2 L1125.5,234.6 L1126.5,234.9 L1127.5,235.3 L1128.5,235.7 L1129.5,236.0 L1130.5,236.4 L1131.5,236.8 L1132.5,237.1 L1133.5,237.5 L1134.5,237.8 L1135.5,238.2 L1136.5,238.5 L1137.5,238.8 L1138.5,239.2 L1139.5,239.5 L1140.5,239.8 L1141.5,240.1 L1142.5,240.5 L1143.5,240.8 L1144.5,241.1 L1145.5,241.4 L1146.5,241.7 L1147.5,242.0 L1148.5,242.2 L1149.5,242.5 L1150.5,242.8 L1151.5,243.1 L1152.5,243.3 L1153.5,243.6 L1154.5,243.9 L1155.5,244.1 L1156.5,244.4 L1157.5,244.6 L1158.5,244.8 L1159.5,245.1 L1160.5,245.3 L1161.5,245.5 L1162.5,245.7 L1163.5,245.9 L1164.5,246.1 L1165.5,246.3 L1166.5,246.5 L1167.5,246.7 L1168.5,246.9 L1169.5,247.1 L1170.5,247.3 L1171.5,247.4 L1172.5,247.6 L1173.5,247.8 L1174.5,247.9 L1175.5,248.1 L1176.5,248.2 L1177.5,248.4 L1178.5,248.5 L1179.5,248.7 L1180.5,248.8 L1181.5,248.9 L1182.5,249.1 L1183.5,249.2 L1184.5,249.3 L1185.5,249.4 L1186.5,249.5 L1187.5,249.7 L1188.5,249.8 L1189.5,249.9 L1190.5,250.0 L1191.5,250.1 L1192.5,250.2 L1193.5,250.2 L1194.5,250.3 L1195.5,250.4 L1196.5,250.5 L1197.5,250.6 L1198.5,250.7 L1199.5,250.7 L1200.5,250.8 L1201.5,250.9 L1202.5,250.9 L1203.5,251.0 L1204.5,251.1 L1205.5,251.1 L1206.5,251.2 L1207.5,251.3 L1208.5,251.3 L1209.5,251.4 L1210.5,251.4 L1211.5,251.5 L1212.5,251.5 L1213.5,251.6 L1214.5,251.6 L1215.5,251.6 L1216.5,251.7 L1217.5,251.7 L1218.5,251.8 L1219.5,251.8 L1220.5,251.8 L1221.5,251.9 L1222.5,251.9 L1223.5,251.9 L1224.5,252.0 L1225.5,252.0 L1226.5,252.0 L1227.5,252.1 L1228.5,252.1 L1229.5,252.1 L1230.5,252.2 L1231.5,252.2 L1232.5,252.2 L1233.5,252.2 L1234.5,252.3 L1235.5,252.3 L1236.5,252.3 L1237.5,252.3 L1238.5,252.3 L1239.5,252.4 L1240.5,252.4 L1241.5,252.4 L1242.5,252.4 L1243.5,252.4 L1244.5,252.5 L1245.5,252.5 L1246.5,252.5 L1247.5,252.5 L1248.5,252.5 L1249.5,252.6 L1250.5,252.6 L1251.5,252.6 L1252.5,252.6 L1253.5,252.6 L1254.5,252.6 L1255.5,252.6 L1256.5,252.7 L1257.5,252.7 L1258.5,252.7 L1259.5,252.7 L1260.5,252.7 L1261.5,252.7 L1262.5,252.7 L1263.5,252.8 L1264.5,252.8 L1265.5,252.8 L1266.5,252.8 L1267.5,252.8 L1268.5,252.8 L1269.5,252.8 L1270.5,252.8 L1271.5,252.9 L1272.5,252.9 L1273.5,252.9 L1274.5,252.9 L1275.5,252.9 L1276.5,252.9 L1277.5,252.9 L1278.5,252.9 L1279.5,252.9 L1280.5,253.0 L1281.5,253.0 L1282.5,253.0 L1283.5,253.0 L1284.5,253.0 L1285.5,253.0 L1286.5,253.0 L1287.5,253.0 L1288.5,253.1 L1289.5,253.1 L1290.5,253.1 L1291.5,253.1 L1292.5,253.1 L1293.5,253.1 L1294.5,253.1 L1295.5,253.1 L1296.5,253.1 L1297.5,253.1 L1298.5,253.2 L1299.5,253.2 L1300.5,253.2 L1301.5,253.2 L1302.5,253.2 L1303.5,253.2 L1304.5,253.2 L1305.5,253.2 L1306.5,253.2 L1307.5,253.3 L1308.5,253.3 L1309.5,253.3 L1310.5,253.3 L1311.5,253.3 L1312.5,253.3 L1313.5,253.3 L1314.5,253.3 L1315.5,253.3 L1316.5,253.3 L1317.5,253.4 L1318.5,253.4 L1319.5,253.4 L1320.5,253.4 L1321.5,253.4 L1322.5,253.4 L1323.5,253.4 L1324.5,253.4 L1325.5,253.4 L1326.5,253.5 L1327.5,253.5 L1328.5,253.5 L1329.5,253.5 L1330.5,253.5 L1331.5,253.5 L1332.5,253.5 L1333.5,253.5 L1334.5,253.5 L1335.5,253.5 L1336.5,253.6 L1337.5,253.6 L1338.5,253.6 L1339.5,253.6 L1340.5,253.6 L1341.5,253.6 L1342.5,253.6 L1343.5,253.6 L1344.5,253.6 L1345.5,253.7 L1346.5,253.7 L1347.5,253.7 L1348.5,253.7 L1349.5,253.7 L1350.5,253.7 L1351.5,253.7 L1352.5,253.7 L1353.5,253.7 L1354.5,253.7 L1355.5,253.8 L1356.5,253.8 L1357.5,253.8 L1358.5,253.8 L1359.5,253.8 L1360.5,253.8 L1361.5,253.8 L1362.5,253.8 L1363.5,253.8 L1364.5,253.9 L1365.5,253.9 L1366.5,253.9 L1367.5,253.9 L1368.5,253.9 L1369.5,253.9 L1370.5,253.9 L1371.5,253.9 L1372.5,253.9 L1373.5,253.9 L1374.5,254.0 L1375.5,254.0 L1376.5,254.0 L1377.5,254.0 L1378.5,254.0 L1379.5,254.0 L1380.5,254.0 L1381.5,254.0 L1382.5,254.0 L1383.5,254.1 L1384.5,254.1 L1385.5,254.1 L1386.5,254.1 L1387.5,254.1 L1388.5,254.1 L1389.5,254.1 L1390.5,254.1 L1391.5,254.1 L1392.5,254.1 L1393.5,254.2 L1394.5,254.2 L1395.5,254.2 L1396.5,254.2 L1397.5,254.2 L1398.5,254.2 L1399.5,254.2 L1400.5,254.2 L1401.5,254.2 L1402.5,254.2 L1403.5,254.3 L1404.5,254.3 L1405.5,254.3 L1406.5,254.3 L1407.5,254.3 L1408.5,254.3 L1409.5,254.3 L1410.5,254.3 L1411.5,254.3 L1412.5,254.4 L1413.5,254.4 L1414.5,254.4 L1415.5,254.4 L1416.5,254.4 L1417.5,254.4 L1418.5,254.4 L1419.5,254.4 L1420.5,254.4 L1421.5,254.4 L1422.5,254.5 L1423.5,254.5 L1424.5,254.5 L1425.5,254.5 L1426.5,254.5 L1427.5,254.5 L1428.5,254.5 L1429.5,254.5 L1430.5,254.5 L1431.5,254.6 L1432.5,254.6 L1433.5,254.6 L1434.5,254.6 L1435.5,254.6 L1436.5,254.6 L1437.5,254.6 L1438.5,254.6 L1439.5,254.6 L1440.5,254.6 L1441.5,254.7 L1442.5,254.7 L1443.5,254.7 L1444.5,254.7 L1445.5,254.7" fill="none" stroke="#2650a1" stroke-width="5" stroke-linejoin="round" stroke-linecap="round" />
<path d="M843.5,248.4 L844.5,248.4 L845.5,248.4 L846.5,248.4 L847.5,248.4 L848.5,248.4 L849.5,248.4 L850.5,248.4 L851.5,248.4 L852.5,248.4 L853.5,248.5 L854.5,248.5 L855.5,248.5 L856.5,248.5 L857.5,248.5 L858.5,248.5 L859.5,248.5 L860.5,248.5 L861.5,248.5 L862.5,248.5 L863.5,248.5 L864.5,248.5 L865.5,248.5 L866.5,248.5 L867.5,248.5 L868.5,248.5 L869.5,248.5 L870.5,248.5 L871.5,248.5 L872.5,248.5 L873.5,248.5 L874.5,248.5 L875.5,248.5 L876.5,248.5 L877.5,248.5 L878.5,248.5 L879.5,248.5 L880.5,248.5 L881.5,248.5 L882.5,248.5 L883.5,248.5 L884.5,248.5 L885.5,248.5 L886.5,248.5 L887.5,248.5 L888.5,248.5 L889.5,248.4 L890.5,248.4 L891.5,248.4 L892.5,248.4 L893.5,248.4 L894.5,248.4 L895.5,248.3 L896.5,248.3 L897.5,248.3 L898.5,248.3 L899.5,248.2 L900.5,248.2 L901.5,248.2 L902.5,248.1 L903.5,248.1 L904.5,248.1 L905.5,248.0 L906.5,248.0 L907.5,247.9 L908.5,247.9 L909.5,247.8 L910.5,247.8 L911.5,247.7 L912.5,247.7 L913.5,247.6 L914.5,247.5 L915.5,247.5 L916.5,247.4 L917.5,247.3 L918.5,247.3 L919.5,247.2 L920.5,247.1 L921.5,247.0 L922.5,246.9 L923.5,246.8 L924.5,246.7 L925.5,246.6 L926.5,246.5 L927.5,246.4 L928.5,246.3 L929.5,246.1 L930.5,246.0 L931.5,245.9 L932.5,245.7 L933.5,245.6 L934.5,245.4 L935.5,245.3 L936.5,245.1 L937.5,244.9 L938.5,244.8 L939.5,244.6 L940.5,244.4 L941.5,244.2 L942.5,244.0 L943.5,243.8 L944.5,243.6 L945.5,243.4 L946.5,243.2 L947.5,242.9 L948.5,242.7 L949.5,242.4 L950.5,242.2 L951.5,241.9 L952.5,241.7 L953.5,241.4 L954.5,241.1 L955.5,240.8 L956.5,240.5 L957.5,240.2 L958.5,239.9 L959.5,239.6 L960.5,239.3 L961.5,239.0 L962.5,238.6 L963.5,238.3 L964.5,237.9 L965.5,237.6 L966.5,237.2 L967.5,236.8 L968.5,236.4 L969.5,236.0 L970.5,235.6 L971.5,235.2 L972.5,234.8 L973.5,234.4 L974.5,234.0 L975.5,233.6 L976.5,233.1 L977.5,232.7 L978.5,232.2 L979.5,231.8 L980.5,231.3 L981.5,230.8 L982.5,230.4 L983.5,229.9 L984.5,229.4 L985.5,228.9 L986.5,228.4 L987.5,227.9 L988.5,227.4 L989.5,226.9 L990.5,226.4 L991.5,225.9 L992.5,225.4 L993.5,224.9 L994.5,224.3 L995.5,223.8 L996.5,223.3 L997.5,222.8 L998.5,222.2 L999.5,221.7 L1000.5,221.1 L1001.5,220.6 L1002.5,220.1 L1003.5,219.5 L1004.5,219.0 L1005.5,218.4 L1006.5,217.9 L1007.5,217.3 L1008.5,216.8 L1009.5,216.3 L1010.5,215.7 L1011.5,215.2 L1012.5,214.6 L1013.5,214.1 L1014.5,213.5 L1015.5,213.0 L1016.5,212.5 L1017.5,211.9 L1018.5,211.4 L1019.5,210.8 L1020.5,210.3 L1021.5,209.8 L1022.5,209.3 L1023.5,208.7 L1024.5,208.2 L1025.5,207.7 L1026.5,207.1 L1027.5,206.6 L1028.5,206.1 L1029.5,205.6 L1030.5,205.1 L1031.5,204.6 L1032.5,204.0 L1033.5,203.5 L1034.5,203.0 L1035.5,202.5 L1036.5,202.0 L1037.5,201.5 L1038.5,201.0 L1039.5,200.5 L1040.5,200.0 L1041.5,199.5 L1042.5,199.0 L1043.5,198.5 L1044.5,198.0 L1045.5,197.5 L1046.5,197.0 L1047.5,196.5 L1048.5,196.0 L1049.5,195.5 L1050.5,195.0 L1051.5,194.4 L1052.5,193.9 L1053.5,193.4 L1054.5,192.9 L1055.5,192.4 L1056.5,191.8 L1057.5,191.3 L1058.5,190.8 L1059.5,190.2 L1060.5,189.7 L1061.5,189.1 L1062.5,188.6 L1063.5,188.0 L1064.5,187.5 L1065.5,186.9 L1066.5,186.3 L1067.5,185.7 L1068.5,185.1 L1069.5,184.5 L1070.5,183.9 L1071.5,183.3 L1072.5,182.7 L1073.5,182.0 L1074.5,181.4 L1075.5,180.7 L1076.5,180.0 L1077.5,179.3 L1078.5,178.6 L1079.5,177.9 L1080.5,177.2 L1081.5,176.5 L1082.5,175.7 L1083.5,175.0 L1084.5,174.2 L1085.5,173.4 L1086.5,172.6 L1087.5,171.8 L1088.5,171.0 L1089.5,170.2 L1090.5,169.3 L1091.5,168.4 L1092.5,167.6 L1093.5,166.7 L1094.5,165.7 L1095.5,164.8 L1096.5,163.9 L1097.5,162.9 L1098.5,161.9 L1099.5,160.9 L1100.5,159.9 L1101.5,158.9 L1102.5,157.9 L1103.5,156.8 L1104.5,155.8 L1105.5,154.7 L1106.5,153.6 L1107.5,152.5 L1108.5,151.3 L1109.5,150.2 L1110.5,149.0 L1111.5,147.9 L1112.5,146.7 L1113.5,145.5 L1114.5,144.3 L1115.5,143.0 L1116.5,141.8 L1117.5,140.6 L1118.5,139.3 L1119.5,138.0 L1120.5,136.7 L1121.5,135.4 L1122.5,134.1 L1123.5,132.8 L1124.5,131.5 L1125.5,130.1 L1126.5,128.8 L1127.5,127.4 L1128.5,126.1 L1129.5,124.7 L1130.5,123.3 L1131.5,121.9 L1132.5,120.5 L1133.5,119.2 L1134.5,117.8 L1135.5,116.4 L1136.5,115.0 L1137.5,113.6 L1138.5,112.2 L1139.5,110.8 L1140.5,109.4 L1141.5,108.0 L1142.5,106.6 L1143.5,105.2 L1144.5,103.8 L1145.5,102.4 L1146.5,101.0 L1147.5,99.7 L1148.5,98.3 L1149.5,97.0 L1150.5,95.6 L1151.5,94.3 L1152.5,93.0 L1153.5,91.6 L1154.5,90.4 L1155.5,89.1 L1156.5,87.8 L1157.5,86.5 L1158.5,85.3 L1159.5,84.1 L1160.5,82.9 L1161.5,81.7 L1162.5,80.6 L1163.5,79.4 L1164.5,78.3 L1165.5,77.2 L1166.5,76.1 L1167.5,75.1 L1168.5,74.1 L1169.5,73.1 L1170.5,72.1 L1171.5,71.2 L1172.5,70.3 L1173.5,69.4 L1174.5,68.5 L1175.5,67.7 L1176.5,66.9 L1177.5,66.2 L1178.5,65.4 L1179.5,64.7 L1180.5,64.1 L1181.5,63.5 L1182.5,62.9 L1183.5,62.3 L1184.5,61.8 L1185.5,61.3 L1186.5,60.9 L1187.5,60.5 L1188.5,60.1 L1189.5,59.8 L1190.5,59.5 L1191.5,59.3 L1192.5,59.1 L1193.5,58.9 L1194.5,58.8 L1195.5,58.7 L1196.5,58.6 L1197.5,58.6 L1198.5,58.7 L1199.5,58.7 L1200.5,58.9 L1201.5,59.0 L1202.5,59.2 L1203.5,59.4 L1204.5,59.7 L1205.5,60.0 L1206.5,60.4 L1207.5,60.8 L1208.5,61.3 L1209.5,61.7 L1210.5,62.3 L1211.5,62.8 L1212.5,63.4 L1213.5,64.1 L1214.5,64.7 L1215.5,65.5 L1216.5,66.2 L1217.5,67.0 L1218.5,67.8 L1219.5,68.7 L1220.5,69.6 L1221.5,70.6 L1222.5,71.5 L1223.5,72.5 L1224.5,73.6 L1225.5,74.7 L1226.5,75.8 L1227.5,76.9 L1228.5,78.1 L1229.5,79.3 L1230.5,80.5 L1231.5,81.8 L1232.5,83.1 L1233.5,84.4 L1234.5,85.8 L1235.5,87.1 L1236.5,88.5 L1237.5,90.0 L1238.5,91.4 L1239.5,92.9 L1240.5,94.4 L1241.5,95.9 L1242.5,97.4 L1243.5,99.0 L1244.5,100.5 L1245.5,102.1 L1246.5,103.7 L1247.5,105.4 L1248.5,107.0 L1249.5,108.6 L1250.5,110.3 L1251.5,112.0 L1252.5,113.7 L1253.5,115.4 L1254.5,117.1 L1255.5,118.8 L1256.5,120.5 L1257.5,122.3 L1258.5,124.0 L1259.5,125.8 L1260.5,127.5 L1261.5,129.3 L1262.5,131.0 L1263.5,132.8 L1264.5,134.6 L1265.5,136.3 L1266.5,138.1 L1267.5,139.9 L1268.5,141.6 L1269.5,143.4 L1270.5,145.1 L1271.5,146.9 L1272.5,148.6 L1273.5,150.4 L1274.5,152.1 L1275.5,153.8 L1276.5,155.6 L1277.5,157.3 L1278.5,159.0 L1279.5,160.7 L1280.5,162.4 L1281.5,164.0 L1282.5,165.7 L1283.5,167.4 L1284.5,169.0 L1285.5,170.6 L1286.5,172.2 L1287.5,173.8 L1288.5,175.4 L1289.5,177.0 L1290.5,178.6 L1291.5,180.1 L1292.5,181.6 L1293.5,183.2 L1294.5,184.7 L1295.5,186.1 L1296.5,187.6 L1297.5,189.0 L1298.5,190.5 L1299.5,191.9 L1300.5,193.3 L1301.5,194.7 L1302.5,196.0 L1303.5,197.4 L1304.5,198.7 L1305.5,200.0 L1306.5,201.3 L1307.5,202.5 L1308.5,203.8 L1309.5,205.0 L1310.5,206.2 L1311.5,207.4 L1312.5,208.6 L1313.5,209.7 L1314.5,210.8 L1315.5,212.0 L1316.5,213.0 L1317.5,214.1 L1318.5,215.2 L1319.5,216.2 L1320.5,217.2 L1321.5,218.2 L1322.5,219.2 L1323.5,220.1 L1324.5,221.1 L1325.5,222.0 L1326.5,222.9 L1327.5,223.8 L1328.5,224.6 L1329.5,225.5 L1330.5,226.3 L1331.5,227.1 L1332.5,227.9 L1333.5,228.7 L1334.5,229.5 L1335.5,230.2 L1336.5,230.9 L1337.5,231.6 L1338.5,232.3 L1339.5,233.0 L1340.5,233.6 L1341.5,234.3 L1342.5,234.9 L1343.5,235.5 L1344.5,236.1 L1345.5,236.7 L1346.5,237.3 L1347.5,237.8 L1348.5,238.3 L1349.5,238.9 L1350.5,239.4 L1351.5,239.9 L1352.5,240.4 L1353.5,240.8 L1354.5,241.3 L1355.5,241.7 L1356.5,242.1 L1357.5,242.6 L1358.5,243.0 L1359.5,243.4 L1360.5,243.8 L1361.5,244.1 L1362.5,244.5 L1363.5,244.8 L1364.5,245.2 L1365.5,245.5 L1366.5,245.8 L1367.5,246.1 L1368.5,246.4 L1369.5,246.7 L1370.5,247.0 L1371.5,247.3 L1372.5,247.6 L1373.5,247.8 L1374.5,248.1 L1375.5,248.3 L1376.5,248.5 L1377.5,248.8 L1378.5,249.0 L1379.5,249.2 L1380.5,249.4 L1381.5,249.6 L1382.5,249.8 L1383.5,250.0 L1384.5,250.1 L1385.5,250.3 L1386.5,250.5 L1387.5,250.6 L1388.5,250.8 L1389.5,250.9 L1390.5,251.1 L1391.5,251.2 L1392.5,251.4 L1393.5,251.5 L1394.5,251.6 L1395.5,251.7 L1396.5,251.9 L1397.5,252.0 L1398.5,252.1 L1399.5,252.2 L1400.5,252.3 L1401.5,252.4 L1402.5,252.5 L1403.5,252.6 L1404.5,252.7 L1405.5,252.7 L1406.5,252.8 L1407.5,252.9 L1408.5,253.0 L1409.5,253.0 L1410.5,253.1 L1411.5,253.2 L1412.5,253.2 L1413.5,253.3 L1414.5,253.4 L1415.5,253.4 L1416.5,253.5 L1417.5,253.5 L1418.5,253.6 L1419.5,253.6 L1420.5,253.7 L1421.5,253.7 L1422.5,253.8 L1423.5,253.8 L1424.5,253.9 L1425.5,253.9 L1426.5,253.9 L1427.5,254.0 L1428.5,254.0 L1429.5,254.1 L1430.5,254.1 L1431.5,254.1 L1432.5,254.2 L1433.5,254.2 L1434.5,254.2 L1435.5,254.3 L1436.5,254.3 L1437.5,254.3 L1438.5,254.3 L1439.5,254.4 L1440.5,254.4 L1441.5,254.4 L1442.5,254.4 L1443.5,254.5 L1444.5,254.5 L1445.5,254.5" fill="none" stroke="#a8529b" stroke-width="5.5" stroke-linejoin="round" stroke-linecap="round" />
<path d="M843.5,462.2 L846.5,461.5 L849.5,463.5 L852.5,461.1 L855.5,462.9 L858.5,462.1 L861.5,460.8 L864.5,462.5 L867.5,460.5 L870.5,461.9 L873.5,460.3 L876.5,460.2 L879.5,461.3 L882.5,462.7 L885.5,459.6 L888.5,459.6 L891.5,460.9 L894.5,461.8 L897.5,459.8 L900.5,458.6 L903.5,460.4 L906.5,456.0 L909.5,458.6 L912.5,455.5 L915.5,454.1 L918.5,453.1 L921.5,452.9 L924.5,453.8 L927.5,450.1 L930.5,450.5 L933.5,449.4 L936.5,446.9 L939.5,446.0 L942.5,442.4 L945.5,440.7 L948.5,439.4 L951.5,439.4 L954.5,436.3 L957.5,433.7 L960.5,432.6 L963.5,429.7 L966.5,426.7 L969.5,426.2 L972.5,423.3 L975.5,418.9 L978.5,417.5 L981.5,414.6 L984.5,413.3 L987.5,410.0 L990.5,405.4 L993.5,405.5 L996.5,399.3 L999.5,397.8 L1002.5,396.4 L1005.5,391.4 L1008.5,390.2 L1011.5,385.9 L1014.5,386.0 L1017.5,384.1 L1020.5,381.1 L1023.5,380.3 L1026.5,376.0 L1029.5,375.7 L1032.5,373.6 L1035.5,371.9 L1038.5,369.9 L1041.5,370.1 L1044.5,369.2 L1047.5,366.2 L1050.5,365.9 L1053.5,362.5 L1056.5,364.2 L1059.5,363.1 L1062.5,363.8 L1065.5,362.4 L1068.5,359.5 L1071.5,359.2 L1074.5,359.6 L1077.5,356.3 L1080.5,357.3 L1083.5,355.3 L1086.5,354.2 L1089.5,353.0 L1092.5,354.7 L1095.5,350.9 L1098.5,350.0 L1101.5,349.1 L1104.5,349.4 L1107.5,344.5 L1110.5,344.0 L1113.5,342.3 L1116.5,341.4 L1119.5,338.7 L1122.5,336.4 L1125.5,331.4 L1128.5,329.1 L1131.5,326.0 L1134.5,325.1 L1137.5,322.3 L1140.5,316.0 L1143.5,312.9 L1146.5,310.0 L1149.5,306.9 L1152.5,304.8 L1155.5,302.2 L1158.5,297.9 L1161.5,294.1 L1164.5,293.0 L1167.5,290.3 L1170.5,288.8 L1173.5,288.3 L1176.5,285.3 L1179.5,283.1 L1182.5,282.1 L1185.5,281.4 L1188.5,278.2 L1191.5,281.2 L1194.5,280.6 L1197.5,281.3 L1200.5,281.6 L1203.5,281.0 L1206.5,282.3 L1209.5,282.8 L1212.5,286.9 L1215.5,287.0 L1218.5,289.6 L1221.5,293.2 L1224.5,296.2 L1227.5,300.5 L1230.5,303.1 L1233.5,306.9 L1236.5,311.7 L1239.5,315.9 L1242.5,321.6 L1245.5,324.9 L1248.5,333.2 L1251.5,337.1 L1254.5,340.3 L1257.5,345.8 L1260.5,351.3 L1263.5,356.5 L1266.5,360.6 L1269.5,368.6 L1272.5,374.2 L1275.5,377.0 L1278.5,382.0 L1281.5,385.2 L1284.5,389.9 L1287.5,395.4 L1290.5,399.4 L1293.5,405.9 L1296.5,407.3 L1299.5,410.7 L1302.5,418.1 L1305.5,420.0 L1308.5,421.9 L1311.5,426.7 L1314.5,427.7 L1317.5,432.6 L1320.5,437.2 L1323.5,439.3 L1326.5,441.0 L1329.5,441.5 L1332.5,444.0 L1335.5,445.1 L1338.5,449.3 L1341.5,450.0 L1344.5,452.5 L1347.5,452.1 L1350.5,453.0 L1353.5,456.5 L1356.5,458.3 L1359.5,458.8 L1362.5,459.5 L1365.5,460.3 L1368.5,460.7 L1371.5,459.3 L1374.5,461.1 L1377.5,461.0 L1380.5,460.2 L1383.5,460.6 L1386.5,462.0 L1389.5,462.2 L1392.5,464.3 L1395.5,465.6 L1398.5,463.8 L1401.5,466.0 L1404.5,466.4 L1407.5,466.4 L1410.5,464.2 L1413.5,463.7 L1416.5,463.9 L1419.5,463.9 L1422.5,464.0 L1425.5,465.7 L1428.5,466.9 L1431.5,466.7 L1434.5,465.3 L1437.5,466.1 L1440.5,466.7 L1443.5,463.9" fill="none" stroke="#167a38" stroke-width="5" stroke-linejoin="round" stroke-linecap="round" />
<path d="M843.5,464.7 L844.5,464.7 L845.5,464.7 L846.5,464.7 L847.5,464.7 L848.5,464.7 L849.5,464.7 L850.5,464.7 L851.5,464.7 L852.5,464.7 L853.5,464.7 L854.5,464.7 L855.5,464.7 L856.5,464.8 L857.5,464.8 L858.5,464.8 L859.5,464.8 L860.5,464.8 L861.5,464.8 L862.5,464.8 L863.5,464.8 L864.5,464.8 L865.5,464.8 L866.5,464.8 L867.5,464.8 L868.5,464.8 L869.5,464.8 L870.5,464.8 L871.5,464.8 L872.5,464.8 L873.5,464.8 L874.5,464.8 L875.5,464.8 L876.5,464.8 L877.5,464.8 L878.5,464.8 L879.5,464.8 L880.5,464.9 L881.5,464.9 L882.5,464.9 L883.5,464.9 L884.5,464.9 L885.5,464.9 L886.5,464.9 L887.5,464.9 L888.5,464.9 L889.5,464.9 L890.5,464.9 L891.5,464.9 L892.5,464.9 L893.5,464.9 L894.5,464.9 L895.5,464.9 L896.5,464.9 L897.5,464.9 L898.5,464.9 L899.5,464.9 L900.5,464.9 L901.5,464.9 L902.5,464.9 L903.5,464.9 L904.5,464.9 L905.5,464.9 L906.5,465.0 L907.5,465.0 L908.5,465.0 L909.5,465.0 L910.5,465.0 L911.5,465.0 L912.5,465.0 L913.5,465.0 L914.5,465.0 L915.5,465.0 L916.5,465.0 L917.5,465.0 L918.5,465.0 L919.5,465.0 L920.5,465.0 L921.5,465.0 L922.5,465.0 L923.5,465.0 L924.5,465.0 L925.5,465.0 L926.5,465.0 L927.5,465.0 L928.5,465.0 L929.5,465.0 L930.5,465.0 L931.5,465.0 L932.5,465.0 L933.5,465.0 L934.5,465.0 L935.5,465.0 L936.5,465.0 L937.5,465.0 L938.5,465.0 L939.5,465.0 L940.5,465.0 L941.5,465.0 L942.5,465.0 L943.5,465.0 L944.5,465.0 L945.5,465.0 L946.5,465.0 L947.5,465.0 L948.5,465.0 L949.5,465.0 L950.5,465.0 L951.5,465.0 L952.5,465.0 L953.5,465.0 L954.5,465.0 L955.5,465.0 L956.5,465.0 L957.5,465.0 L958.5,465.0 L959.5,465.0 L960.5,464.9 L961.5,464.9 L962.5,464.9 L963.5,464.9 L964.5,464.9 L965.5,464.9 L966.5,464.9 L967.5,464.9 L968.5,464.8 L969.5,464.8 L970.5,464.8 L971.5,464.8 L972.5,464.8 L973.5,464.7 L974.5,464.7 L975.5,464.7 L976.5,464.7 L977.5,464.6 L978.5,464.6 L979.5,464.6 L980.5,464.6 L981.5,464.5 L982.5,464.5 L983.5,464.5 L984.5,464.4 L985.5,464.4 L986.5,464.3 L987.5,464.3 L988.5,464.2 L989.5,464.2 L990.5,464.1 L991.5,464.1 L992.5,464.0 L993.5,464.0 L994.5,463.9 L995.5,463.8 L996.5,463.8 L997.5,463.7 L998.5,463.6 L999.5,463.5 L1000.5,463.5 L1001.5,463.4 L1002.5,463.3 L1003.5,463.2 L1004.5,463.1 L1005.5,463.0 L1006.5,462.9 L1007.5,462.8 L1008.5,462.7 L1009.5,462.6 L1010.5,462.4 L1011.5,462.3 L1012.5,462.2 L1013.5,462.0 L1014.5,461.9 L1015.5,461.7 L1016.5,461.6 L1017.5,461.4 L1018.5,461.2 L1019.5,461.1 L1020.5,460.9 L1021.5,460.7 L1022.5,460.5 L1023.5,460.3 L1024.5,460.1 L1025.5,459.9 L1026.5,459.6 L1027.5,459.4 L1028.5,459.1 L1029.5,458.9 L1030.5,458.6 L1031.5,458.4 L1032.5,458.1 L1033.5,457.8 L1034.5,457.5 L1035.5,457.2 L1036.5,456.9 L1037.5,456.5 L1038.5,456.2 L1039.5,455.9 L1040.5,455.5 L1041.5,455.1 L1042.5,454.7 L1043.5,454.3 L1044.5,453.9 L1045.5,453.5 L1046.5,453.1 L1047.5,452.6 L1048.5,452.2 L1049.5,451.7 L1050.5,451.2 L1051.5,450.7 L1052.5,450.2 L1053.5,449.7 L1054.5,449.1 L1055.5,448.6 L1056.5,448.0 L1057.5,447.4 L1058.5,446.8 L1059.5,446.2 L1060.5,445.5 L1061.5,444.9 L1062.5,444.2 L1063.5,443.5 L1064.5,442.8 L1065.5,442.1 L1066.5,441.4 L1067.5,440.6 L1068.5,439.8 L1069.5,439.1 L1070.5,438.3 L1071.5,437.4 L1072.5,436.6 L1073.5,435.7 L1074.5,434.8 L1075.5,433.9 L1076.5,433.0 L1077.5,432.1 L1078.5,431.1 L1079.5,430.2 L1080.5,429.2 L1081.5,428.2 L1082.5,427.1 L1083.5,426.1 L1084.5,425.0 L1085.5,423.9 L1086.5,422.8 L1087.5,421.7 L1088.5,420.5 L1089.5,419.4 L1090.5,418.2 L1091.5,417.0 L1092.5,415.8 L1093.5,414.5 L1094.5,413.3 L1095.5,412.0 L1096.5,410.7 L1097.5,409.4 L1098.5,408.0 L1099.5,406.7 L1100.5,405.3 L1101.5,403.9 L1102.5,402.5 L1103.5,401.1 L1104.5,399.7 L1105.5,398.2 L1106.5,396.7 L1107.5,395.3 L1108.5,393.8 L1109.5,392.3 L1110.5,390.7 L1111.5,389.2 L1112.5,387.6 L1113.5,386.1 L1114.5,384.5 L1115.5,382.9 L1116.5,381.3 L1117.5,379.7 L1118.5,378.1 L1119.5,376.4 L1120.5,374.8 L1121.5,373.1 L1122.5,371.5 L1123.5,369.8 L1124.5,368.2 L1125.5,366.5 L1126.5,364.8 L1127.5,363.1 L1128.5,361.4 L1129.5,359.7 L1130.5,358.1 L1131.5,356.4 L1132.5,354.7 L1133.5,353.0 L1134.5,351.3 L1135.5,349.6 L1136.5,347.9 L1137.5,346.2 L1138.5,344.5 L1139.5,342.9 L1140.5,341.2 L1141.5,339.5 L1142.5,337.9 L1143.5,336.2 L1144.5,334.6 L1145.5,333.0 L1146.5,331.4 L1147.5,329.8 L1148.5,328.2 L1149.5,326.6 L1150.5,325.1 L1151.5,323.5 L1152.5,322.0 L1153.5,320.5 L1154.5,319.0 L1155.5,317.6 L1156.5,316.1 L1157.5,314.7 L1158.5,313.3 L1159.5,311.9 L1160.5,310.6 L1161.5,309.2 L1162.5,307.9 L1163.5,306.7 L1164.5,305.4 L1165.5,304.2 L1166.5,303.0 L1167.5,301.9 L1168.5,300.7 L1169.5,299.6 L1170.5,298.6 L1171.5,297.5 L1172.5,296.5 L1173.5,295.6 L1174.5,294.7 L1175.5,293.8 L1176.5,292.9 L1177.5,292.1 L1178.5,291.3 L1179.5,290.6 L1180.5,289.9 L1181.5,289.2 L1182.5,288.6 L1183.5,288.0 L1184.5,287.5 L1185.5,286.9 L1186.5,286.5 L1187.5,286.1 L1188.5,285.7 L1189.5,285.3 L1190.5,285.0 L1191.5,284.8 L1192.5,284.6 L1193.5,284.4 L1194.5,284.3 L1195.5,284.2 L1196.5,284.2 L1197.5,284.2 L1198.5,284.2 L1199.5,284.3 L1200.5,284.4 L1201.5,284.6 L1202.5,284.8 L1203.5,285.1 L1204.5,285.4 L1205.5,285.8 L1206.5,286.1 L1207.5,286.6 L1208.5,287.0 L1209.5,287.6 L1210.5,288.1 L1211.5,288.7 L1212.5,289.3 L1213.5,290.0 L1214.5,290.7 L1215.5,291.5 L1216.5,292.3 L1217.5,293.1 L1218.5,293.9 L1219.5,294.8 L1220.5,295.8 L1221.5,296.7 L1222.5,297.8 L1223.5,298.8 L1224.5,299.9 L1225.5,301.0 L1226.5,302.1 L1227.5,303.3 L1228.5,304.5 L1229.5,305.7 L1230.5,306.9 L1231.5,308.2 L1232.5,309.5 L1233.5,310.9 L1234.5,312.2 L1235.5,313.6 L1236.5,315.0 L1237.5,316.4 L1238.5,317.9 L1239.5,319.4 L1240.5,320.9 L1241.5,322.4 L1242.5,323.9 L1243.5,325.5 L1244.5,327.0 L1245.5,328.6 L1246.5,330.2 L1247.5,331.8 L1248.5,333.4 L1249.5,335.0 L1250.5,336.7 L1251.5,338.3 L1252.5,340.0 L1253.5,341.7 L1254.5,343.3 L1255.5,345.0 L1256.5,346.7 L1257.5,348.4 L1258.5,350.1 L1259.5,351.8 L1260.5,353.5 L1261.5,355.2 L1262.5,356.9 L1263.5,358.6 L1264.5,360.3 L1265.5,362.0 L1266.5,363.7 L1267.5,365.4 L1268.5,367.1 L1269.5,368.8 L1270.5,370.4 L1271.5,372.1 L1272.5,373.8 L1273.5,375.4 L1274.5,377.1 L1275.5,378.7 L1276.5,380.4 L1277.5,382.0 L1278.5,383.6 L1279.5,385.2 L1280.5,386.8 L1281.5,388.3 L1282.5,389.9 L1283.5,391.4 L1284.5,393.0 L1285.5,394.5 L1286.5,396.0 L1287.5,397.5 L1288.5,399.0 L1289.5,400.4 L1290.5,401.9 L1291.5,403.3 L1292.5,404.7 L1293.5,406.1 L1294.5,407.5 L1295.5,408.8 L1296.5,410.2 L1297.5,411.5 L1298.5,412.8 L1299.5,414.1 L1300.5,415.4 L1301.5,416.6 L1302.5,417.9 L1303.5,419.1 L1304.5,420.3 L1305.5,421.4 L1306.5,422.6 L1307.5,423.7 L1308.5,424.8 L1309.5,425.9 L1310.5,427.0 L1311.5,428.1 L1312.5,429.1 L1313.5,430.1 L1314.5,431.1 L1315.5,432.1 L1316.5,433.1 L1317.5,434.0 L1318.5,435.0 L1319.5,435.9 L1320.5,436.7 L1321.5,437.6 L1322.5,438.5 L1323.5,439.3 L1324.5,440.1 L1325.5,440.9 L1326.5,441.7 L1327.5,442.5 L1328.5,443.2 L1329.5,443.9 L1330.5,444.6 L1331.5,445.3 L1332.5,446.0 L1333.5,446.7 L1334.5,447.3 L1335.5,447.9 L1336.5,448.6 L1337.5,449.2 L1338.5,449.7 L1339.5,450.3 L1340.5,450.9 L1341.5,451.4 L1342.5,451.9 L1343.5,452.4 L1344.5,452.9 L1345.5,453.4 L1346.5,453.9 L1347.5,454.3 L1348.5,454.8 L1349.5,455.2 L1350.5,455.6 L1351.5,456.0 L1352.5,456.4 L1353.5,456.8 L1354.5,457.2 L1355.5,457.5 L1356.5,457.9 L1357.5,458.2 L1358.5,458.5 L1359.5,458.8 L1360.5,459.2 L1361.5,459.5 L1362.5,459.7 L1363.5,460.0 L1364.5,460.3 L1365.5,460.5 L1366.5,460.8 L1367.5,461.0 L1368.5,461.3 L1369.5,461.5 L1370.5,461.7 L1371.5,461.9 L1372.5,462.1 L1373.5,462.3 L1374.5,462.5 L1375.5,462.7 L1376.5,462.9 L1377.5,463.1 L1378.5,463.2 L1379.5,463.4 L1380.5,463.5 L1381.5,463.7 L1382.5,463.8 L1383.5,464.0 L1384.5,464.1 L1385.5,464.2 L1386.5,464.4 L1387.5,464.5 L1388.5,464.6 L1389.5,464.7 L1390.5,464.8 L1391.5,464.9 L1392.5,465.0 L1393.5,465.1 L1394.5,465.2 L1395.5,465.3 L1396.5,465.4 L1397.5,465.4 L1398.5,465.5 L1399.5,465.6 L1400.5,465.7 L1401.5,465.7 L1402.5,465.8 L1403.5,465.9 L1404.5,465.9 L1405.5,466.0 L1406.5,466.0 L1407.5,466.1 L1408.5,466.1 L1409.5,466.2 L1410.5,466.2 L1411.5,466.3 L1412.5,466.3 L1413.5,466.4 L1414.5,466.4 L1415.5,466.4 L1416.5,466.5 L1417.5,466.5 L1418.5,466.5 L1419.5,466.6 L1420.5,466.6 L1421.5,466.6 L1422.5,466.7 L1423.5,466.7 L1424.5,466.7 L1425.5,466.7 L1426.5,466.8 L1427.5,466.8 L1428.5,466.8 L1429.5,466.8 L1430.5,466.9 L1431.5,466.9 L1432.5,466.9 L1433.5,466.9 L1434.5,466.9 L1435.5,466.9 L1436.5,467.0 L1437.5,467.0 L1438.5,467.0 L1439.5,467.0 L1440.5,467.0 L1441.5,467.0 L1442.5,467.0 L1443.5,467.1 L1444.5,467.1 L1445.5,467.1" fill="none" stroke="#283566" stroke-width="5" stroke-linejoin="round" stroke-linecap="round" />
<path d="M843.5,464.4 L844.5,464.4 L845.5,464.4 L846.5,464.4 L847.5,464.4 L848.5,464.4 L849.5,464.4 L850.5,464.3 L851.5,464.3 L852.5,464.3 L853.5,464.3 L854.5,464.3 L855.5,464.2 L856.5,464.2 L857.5,464.2 L858.5,464.2 L859.5,464.1 L860.5,464.1 L861.5,464.1 L862.5,464.0 L863.5,464.0 L864.5,464.0 L865.5,463.9 L866.5,463.9 L867.5,463.8 L868.5,463.8 L869.5,463.7 L870.5,463.7 L871.5,463.6 L872.5,463.6 L873.5,463.5 L874.5,463.5 L875.5,463.4 L876.5,463.3 L877.5,463.3 L878.5,463.2 L879.5,463.1 L880.5,463.0 L881.5,462.9 L882.5,462.9 L883.5,462.8 L884.5,462.7 L885.5,462.6 L886.5,462.5 L887.5,462.4 L888.5,462.3 L889.5,462.1 L890.5,462.0 L891.5,461.9 L892.5,461.8 L893.5,461.6 L894.5,461.5 L895.5,461.3 L896.5,461.2 L897.5,461.0 L898.5,460.9 L899.5,460.7 L900.5,460.5 L901.5,460.3 L902.5,460.2 L903.5,460.0 L904.5,459.8 L905.5,459.6 L906.5,459.3 L907.5,459.1 L908.5,458.9 L909.5,458.7 L910.5,458.4 L911.5,458.2 L912.5,457.9 L913.5,457.6 L914.5,457.4 L915.5,457.1 L916.5,456.8 L917.5,456.5 L918.5,456.2 L919.5,455.8 L920.5,455.5 L921.5,455.2 L922.5,454.8 L923.5,454.5 L924.5,454.1 L925.5,453.7 L926.5,453.3 L927.5,452.9 L928.5,452.5 L929.5,452.1 L930.5,451.7 L931.5,451.3 L932.5,450.8 L933.5,450.4 L934.5,449.9 L935.5,449.4 L936.5,448.9 L937.5,448.4 L938.5,447.9 L939.5,447.4 L940.5,446.9 L941.5,446.3 L942.5,445.8 L943.5,445.2 L944.5,444.6 L945.5,444.0 L946.5,443.4 L947.5,442.8 L948.5,442.2 L949.5,441.6 L950.5,440.9 L951.5,440.3 L952.5,439.6 L953.5,438.9 L954.5,438.3 L955.5,437.6 L956.5,436.9 L957.5,436.2 L958.5,435.4 L959.5,434.7 L960.5,434.0 L961.5,433.2 L962.5,432.5 L963.5,431.7 L964.5,430.9 L965.5,430.1 L966.5,429.3 L967.5,428.5 L968.5,427.7 L969.5,426.9 L970.5,426.1 L971.5,425.3 L972.5,424.4 L973.5,423.6 L974.5,422.8 L975.5,421.9 L976.5,421.1 L977.5,420.2 L978.5,419.4 L979.5,418.5 L980.5,417.6 L981.5,416.8 L982.5,415.9 L983.5,415.0 L984.5,414.2 L985.5,413.3 L986.5,412.4 L987.5,411.6 L988.5,410.7 L989.5,409.8 L990.5,409.0 L991.5,408.1 L992.5,407.2 L993.5,406.4 L994.5,405.5 L995.5,404.7 L996.5,403.9 L997.5,403.0 L998.5,402.2 L999.5,401.4 L1000.5,400.6 L1001.5,399.8 L1002.5,399.0 L1003.5,398.2 L1004.5,397.4 L1005.5,396.7 L1006.5,395.9 L1007.5,395.2 L1008.5,394.5 L1009.5,393.7 L1010.5,393.0 L1011.5,392.4 L1012.5,391.7 L1013.5,391.0 L1014.5,390.4 L1015.5,389.8 L1016.5,389.2 L1017.5,388.6 L1018.5,388.0 L1019.5,387.5 L1020.5,386.9 L1021.5,386.4 L1022.5,385.9 L1023.5,385.4 L1024.5,385.0 L1025.5,384.5 L1026.5,384.1 L1027.5,383.7 L1028.5,383.4 L1029.5,383.0 L1030.5,382.7 L1031.5,382.4 L1032.5,382.1 L1033.5,381.8 L1034.5,381.6 L1035.5,381.4 L1036.5,381.2 L1037.5,381.0 L1038.5,380.9 L1039.5,380.8 L1040.5,380.7 L1041.5,380.6 L1042.5,380.6 L1043.5,380.5 L1044.5,380.5 L1045.5,380.6 L1046.5,380.6 L1047.5,380.7 L1048.5,380.8 L1049.5,380.9 L1050.5,381.1 L1051.5,381.2 L1052.5,381.4 L1053.5,381.7 L1054.5,381.9 L1055.5,382.2 L1056.5,382.5 L1057.5,382.8 L1058.5,383.1 L1059.5,383.5 L1060.5,383.9 L1061.5,384.3 L1062.5,384.7 L1063.5,385.1 L1064.5,385.6 L1065.5,386.1 L1066.5,386.6 L1067.5,387.1 L1068.5,387.7 L1069.5,388.2 L1070.5,388.8 L1071.5,389.4 L1072.5,390.0 L1073.5,390.6 L1074.5,391.3 L1075.5,392.0 L1076.5,392.6 L1077.5,393.3 L1078.5,394.0 L1079.5,394.8 L1080.5,395.5 L1081.5,396.2 L1082.5,397.0 L1083.5,397.8 L1084.5,398.5 L1085.5,399.3 L1086.5,400.1 L1087.5,400.9 L1088.5,401.8 L1089.5,402.6 L1090.5,403.4 L1091.5,404.3 L1092.5,405.1 L1093.5,406.0 L1094.5,406.8 L1095.5,407.7 L1096.5,408.5 L1097.5,409.4 L1098.5,410.3 L1099.5,411.2 L1100.5,412.0 L1101.5,412.9 L1102.5,413.8 L1103.5,414.7 L1104.5,415.5 L1105.5,416.4 L1106.5,417.3 L1107.5,418.2 L1108.5,419.0 L1109.5,419.9 L1110.5,420.8 L1111.5,421.6 L1112.5,422.5 L1113.5,423.3 L1114.5,424.2 L1115.5,425.0 L1116.5,425.9 L1117.5,426.7 L1118.5,427.5 L1119.5,428.4 L1120.5,429.2 L1121.5,430.0 L1122.5,430.8 L1123.5,431.6 L1124.5,432.4 L1125.5,433.1 L1126.5,433.9 L1127.5,434.7 L1128.5,435.4 L1129.5,436.1 L1130.5,436.9 L1131.5,437.6 L1132.5,438.3 L1133.5,439.0 L1134.5,439.7 L1135.5,440.4 L1136.5,441.0 L1137.5,441.7 L1138.5,442.4 L1139.5,443.0 L1140.5,443.6 L1141.5,444.2 L1142.5,444.8 L1143.5,445.4 L1144.5,446.0 L1145.5,446.6 L1146.5,447.2 L1147.5,447.7 L1148.5,448.3 L1149.5,448.8 L1150.5,449.3 L1151.5,449.8 L1152.5,450.3 L1153.5,450.8 L1154.5,451.3 L1155.5,451.7 L1156.5,452.2 L1157.5,452.6 L1158.5,453.1 L1159.5,453.5 L1160.5,453.9 L1161.5,454.3 L1162.5,454.7 L1163.5,455.1 L1164.5,455.5 L1165.5,455.8 L1166.5,456.2 L1167.5,456.5 L1168.5,456.9 L1169.5,457.2 L1170.5,457.5 L1171.5,457.8 L1172.5,458.1 L1173.5,458.4 L1174.5,458.7 L1175.5,459.0 L1176.5,459.3 L1177.5,459.5 L1178.5,459.8 L1179.5,460.0 L1180.5,460.2 L1181.5,460.5 L1182.5,460.7 L1183.5,460.9 L1184.5,461.1 L1185.5,461.3 L1186.5,461.5 L1187.5,461.7 L1188.5,461.9 L1189.5,462.1 L1190.5,462.2 L1191.5,462.4 L1192.5,462.6 L1193.5,462.7 L1194.5,462.9 L1195.5,463.0 L1196.5,463.2 L1197.5,463.3 L1198.5,463.4 L1199.5,463.5 L1200.5,463.7 L1201.5,463.8 L1202.5,463.9 L1203.5,464.0 L1204.5,464.1 L1205.5,464.2 L1206.5,464.3 L1207.5,464.4 L1208.5,464.5 L1209.5,464.6 L1210.5,464.6 L1211.5,464.7 L1212.5,464.8 L1213.5,464.9 L1214.5,464.9 L1215.5,465.0 L1216.5,465.1 L1217.5,465.1 L1218.5,465.2 L1219.5,465.2 L1220.5,465.3 L1221.5,465.3 L1222.5,465.4 L1223.5,465.4 L1224.5,465.5 L1225.5,465.5 L1226.5,465.6 L1227.5,465.6 L1228.5,465.7 L1229.5,465.7 L1230.5,465.7 L1231.5,465.8 L1232.5,465.8 L1233.5,465.8 L1234.5,465.9 L1235.5,465.9 L1236.5,465.9 L1237.5,465.9 L1238.5,466.0 L1239.5,466.0 L1240.5,466.0 L1241.5,466.0 L1242.5,466.1 L1243.5,466.1 L1244.5,466.1 L1245.5,466.1 L1246.5,466.1 L1247.5,466.2 L1248.5,466.2 L1249.5,466.2 L1250.5,466.2 L1251.5,466.2 L1252.5,466.2 L1253.5,466.2 L1254.5,466.3 L1255.5,466.3 L1256.5,466.3 L1257.5,466.3 L1258.5,466.3 L1259.5,466.3 L1260.5,466.3 L1261.5,466.3 L1262.5,466.4 L1263.5,466.4 L1264.5,466.4 L1265.5,466.4 L1266.5,466.4 L1267.5,466.4 L1268.5,466.4 L1269.5,466.4 L1270.5,466.4 L1271.5,466.4 L1272.5,466.4 L1273.5,466.4 L1274.5,466.4 L1275.5,466.5 L1276.5,466.5 L1277.5,466.5 L1278.5,466.5 L1279.5,466.5 L1280.5,466.5 L1281.5,466.5 L1282.5,466.5 L1283.5,466.5 L1284.5,466.5 L1285.5,466.5 L1286.5,466.5 L1287.5,466.5 L1288.5,466.5 L1289.5,466.5 L1290.5,466.5 L1291.5,466.5 L1292.5,466.6 L1293.5,466.6 L1294.5,466.6 L1295.5,466.6 L1296.5,466.6 L1297.5,466.6 L1298.5,466.6 L1299.5,466.6 L1300.5,466.6 L1301.5,466.6 L1302.5,466.6 L1303.5,466.6 L1304.5,466.6 L1305.5,466.6 L1306.5,466.6 L1307.5,466.6 L1308.5,466.6 L1309.5,466.6 L1310.5,466.6 L1311.5,466.6 L1312.5,466.6 L1313.5,466.6 L1314.5,466.7 L1315.5,466.7 L1316.5,466.7 L1317.5,466.7 L1318.5,466.7 L1319.5,466.7 L1320.5,466.7 L1321.5,466.7 L1322.5,466.7 L1323.5,466.7 L1324.5,466.7 L1325.5,466.7 L1326.5,466.7 L1327.5,466.7 L1328.5,466.7 L1329.5,466.7 L1330.5,466.7 L1331.5,466.7 L1332.5,466.7 L1333.5,466.7 L1334.5,466.7 L1335.5,466.7 L1336.5,466.7 L1337.5,466.8 L1338.5,466.8 L1339.5,466.8 L1340.5,466.8 L1341.5,466.8 L1342.5,466.8 L1343.5,466.8 L1344.5,466.8 L1345.5,466.8 L1346.5,466.8 L1347.5,466.8 L1348.5,466.8 L1349.5,466.8 L1350.5,466.8 L1351.5,466.8 L1352.5,466.8 L1353.5,466.8 L1354.5,466.8 L1355.5,466.8 L1356.5,466.8 L1357.5,466.8 L1358.5,466.8 L1359.5,466.8 L1360.5,466.8 L1361.5,466.9 L1362.5,466.9 L1363.5,466.9 L1364.5,466.9 L1365.5,466.9 L1366.5,466.9 L1367.5,466.9 L1368.5,466.9 L1369.5,466.9 L1370.5,466.9 L1371.5,466.9 L1372.5,466.9 L1373.5,466.9 L1374.5,466.9 L1375.5,466.9 L1376.5,466.9 L1377.5,466.9 L1378.5,466.9 L1379.5,466.9 L1380.5,466.9 L1381.5,466.9 L1382.5,466.9 L1383.5,466.9 L1384.5,466.9 L1385.5,467.0 L1386.5,467.0 L1387.5,467.0 L1388.5,467.0 L1389.5,467.0 L1390.5,467.0 L1391.5,467.0 L1392.5,467.0 L1393.5,467.0 L1394.5,467.0 L1395.5,467.0 L1396.5,467.0 L1397.5,467.0 L1398.5,467.0 L1399.5,467.0 L1400.5,467.0 L1401.5,467.0 L1402.5,467.0 L1403.5,467.0 L1404.5,467.0 L1405.5,467.0 L1406.5,467.0 L1407.5,467.0 L1408.5,467.0 L1409.5,467.1 L1410.5,467.1 L1411.5,467.1 L1412.5,467.1 L1413.5,467.1 L1414.5,467.1 L1415.5,467.1 L1416.5,467.1 L1417.5,467.1 L1418.5,467.1 L1419.5,467.1 L1420.5,467.1 L1421.5,467.1 L1422.5,467.1 L1423.5,467.1 L1424.5,467.1 L1425.5,467.1 L1426.5,467.1 L1427.5,467.1 L1428.5,467.1 L1429.5,467.1 L1430.5,467.1 L1431.5,467.1 L1432.5,467.1 L1433.5,467.2 L1434.5,467.2 L1435.5,467.2 L1436.5,467.2 L1437.5,467.2 L1438.5,467.2 L1439.5,467.2 L1440.5,467.2 L1441.5,467.2 L1442.5,467.2 L1443.5,467.2 L1444.5,467.2 L1445.5,467.2" fill="none" stroke="#5d4a9e" stroke-width="5" stroke-linejoin="round" stroke-linecap="round" />
<path d="M843.5,464.4 L844.5,464.4 L845.5,464.4 L846.5,464.4 L847.5,464.4 L848.5,464.4 L849.5,464.4 L850.5,464.3 L851.5,464.3 L852.5,464.3 L853.5,464.3 L854.5,464.3 L855.5,464.2 L856.5,464.2 L857.5,464.2 L858.5,464.2 L859.5,464.1 L860.5,464.1 L861.5,464.1 L862.5,464.0 L863.5,464.0 L864.5,464.0 L865.5,463.9 L866.5,463.9 L867.5,463.8 L868.5,463.8 L869.5,463.7 L870.5,463.7 L871.5,463.6 L872.5,463.6 L873.5,463.5 L874.5,463.5 L875.5,463.4 L876.5,463.3 L877.5,463.3 L878.5,463.2 L879.5,463.1 L880.5,463.0 L881.5,462.9 L882.5,462.9 L883.5,462.8 L884.5,462.7 L885.5,462.6 L886.5,462.5 L887.5,462.4 L888.5,462.2 L889.5,462.1 L890.5,462.0 L891.5,461.9 L892.5,461.8 L893.5,461.6 L894.5,461.5 L895.5,461.3 L896.5,461.2 L897.5,461.0 L898.5,460.9 L899.5,460.7 L900.5,460.5 L901.5,460.3 L902.5,460.1 L903.5,460.0 L904.5,459.8 L905.5,459.5 L906.5,459.3 L907.5,459.1 L908.5,458.9 L909.5,458.6 L910.5,458.4 L911.5,458.1 L912.5,457.9 L913.5,457.6 L914.5,457.3 L915.5,457.1 L916.5,456.8 L917.5,456.5 L918.5,456.1 L919.5,455.8 L920.5,455.5 L921.5,455.2 L922.5,454.8 L923.5,454.4 L924.5,454.1 L925.5,453.7 L926.5,453.3 L927.5,452.9 L928.5,452.5 L929.5,452.1 L930.5,451.7 L931.5,451.2 L932.5,450.8 L933.5,450.3 L934.5,449.8 L935.5,449.4 L936.5,448.9 L937.5,448.4 L938.5,447.8 L939.5,447.3 L940.5,446.8 L941.5,446.2 L942.5,445.7 L943.5,445.1 L944.5,444.5 L945.5,443.9 L946.5,443.3 L947.5,442.7 L948.5,442.1 L949.5,441.4 L950.5,440.8 L951.5,440.1 L952.5,439.5 L953.5,438.8 L954.5,438.1 L955.5,437.4 L956.5,436.7 L957.5,436.0 L958.5,435.2 L959.5,434.5 L960.5,433.7 L961.5,433.0 L962.5,432.2 L963.5,431.4 L964.5,430.6 L965.5,429.8 L966.5,429.0 L967.5,428.2 L968.5,427.4 L969.5,426.5 L970.5,425.7 L971.5,424.8 L972.5,424.0 L973.5,423.1 L974.5,422.3 L975.5,421.4 L976.5,420.5 L977.5,419.6 L978.5,418.7 L979.5,417.8 L980.5,416.9 L981.5,416.0 L982.5,415.1 L983.5,414.2 L984.5,413.3 L985.5,412.4 L986.5,411.5 L987.5,410.5 L988.5,409.6 L989.5,408.7 L990.5,407.8 L991.5,406.9 L992.5,406.0 L993.5,405.0 L994.5,404.1 L995.5,403.2 L996.5,402.3 L997.5,401.4 L998.5,400.5 L999.5,399.6 L1000.5,398.7 L1001.5,397.8 L1002.5,396.9 L1003.5,396.0 L1004.5,395.2 L1005.5,394.3 L1006.5,393.4 L1007.5,392.6 L1008.5,391.7 L1009.5,390.9 L1010.5,390.1 L1011.5,389.3 L1012.5,388.5 L1013.5,387.7 L1014.5,386.9 L1015.5,386.1 L1016.5,385.3 L1017.5,384.6 L1018.5,383.8 L1019.5,383.1 L1020.5,382.4 L1021.5,381.6 L1022.5,380.9 L1023.5,380.3 L1024.5,379.6 L1025.5,378.9 L1026.5,378.3 L1027.5,377.7 L1028.5,377.0 L1029.5,376.4 L1030.5,375.8 L1031.5,375.2 L1032.5,374.7 L1033.5,374.1 L1034.5,373.6 L1035.5,373.1 L1036.5,372.6 L1037.5,372.1 L1038.5,371.6 L1039.5,371.1 L1040.5,370.6 L1041.5,370.2 L1042.5,369.8 L1043.5,369.3 L1044.5,368.9 L1045.5,368.5 L1046.5,368.1 L1047.5,367.8 L1048.5,367.4 L1049.5,367.1 L1050.5,366.7 L1051.5,366.4 L1052.5,366.1 L1053.5,365.8 L1054.5,365.5 L1055.5,365.2 L1056.5,364.9 L1057.5,364.6 L1058.5,364.3 L1059.5,364.1 L1060.5,363.8 L1061.5,363.5 L1062.5,363.3 L1063.5,363.0 L1064.5,362.8 L1065.5,362.6 L1066.5,362.3 L1067.5,362.1 L1068.5,361.9 L1069.5,361.6 L1070.5,361.4 L1071.5,361.2 L1072.5,360.9 L1073.5,360.7 L1074.5,360.5 L1075.5,360.2 L1076.5,360.0 L1077.5,359.7 L1078.5,359.5 L1079.5,359.2 L1080.5,359.0 L1081.5,358.7 L1082.5,358.4 L1083.5,358.1 L1084.5,357.8 L1085.5,357.5 L1086.5,357.2 L1087.5,356.9 L1088.5,356.6 L1089.5,356.2 L1090.5,355.9 L1091.5,355.5 L1092.5,355.1 L1093.5,354.7 L1094.5,354.3 L1095.5,353.9 L1096.5,353.5 L1097.5,353.0 L1098.5,352.5 L1099.5,352.1 L1100.5,351.6 L1101.5,351.1 L1102.5,350.5 L1103.5,350.0 L1104.5,349.4 L1105.5,348.8 L1106.5,348.2 L1107.5,347.6 L1108.5,347.0 L1109.5,346.4 L1110.5,345.7 L1111.5,345.0 L1112.5,344.3 L1113.5,343.6 L1114.5,342.9 L1115.5,342.1 L1116.5,341.4 L1117.5,340.6 L1118.5,339.8 L1119.5,339.0 L1120.5,338.1 L1121.5,337.3 L1122.5,336.4 L1123.5,335.5 L1124.5,334.7 L1125.5,333.7 L1126.5,332.8 L1127.5,331.9 L1128.5,331.0 L1129.5,330.0 L1130.5,329.0 L1131.5,328.1 L1132.5,327.1 L1133.5,326.1 L1134.5,325.1 L1135.5,324.0 L1136.5,323.0 L1137.5,322.0 L1138.5,321.0 L1139.5,319.9 L1140.5,318.9 L1141.5,317.8 L1142.5,316.8 L1143.5,315.7 L1144.5,314.7 L1145.5,313.6 L1146.5,312.6 L1147.5,311.5 L1148.5,310.5 L1149.5,309.4 L1150.5,308.4 L1151.5,307.4 L1152.5,306.3 L1153.5,305.3 L1154.5,304.3 L1155.5,303.3 L1156.5,302.3 L1157.5,301.3 L1158.5,300.4 L1159.5,299.4 L1160.5,298.5 L1161.5,297.5 L1162.5,296.6 L1163.5,295.7 L1164.5,294.9 L1165.5,294.0 L1166.5,293.2 L1167.5,292.4 L1168.5,291.6 L1169.5,290.8 L1170.5,290.0 L1171.5,289.3 L1172.5,288.6 L1173.5,287.9 L1174.5,287.3 L1175.5,286.7 L1176.5,286.1 L1177.5,285.5 L1178.5,285.0 L1179.5,284.5 L1180.5,284.0 L1181.5,283.6 L1182.5,283.2 L1183.5,282.8 L1184.5,282.5 L1185.5,282.2 L1186.5,281.9 L1187.5,281.6 L1188.5,281.4 L1189.5,281.3 L1190.5,281.2 L1191.5,281.1 L1192.5,281.0 L1193.5,281.0 L1194.5,281.0 L1195.5,281.1 L1196.5,281.2 L1197.5,281.3 L1198.5,281.5 L1199.5,281.7 L1200.5,281.9 L1201.5,282.2 L1202.5,282.5 L1203.5,282.9 L1204.5,283.3 L1205.5,283.7 L1206.5,284.2 L1207.5,284.7 L1208.5,285.3 L1209.5,285.9 L1210.5,286.5 L1211.5,287.2 L1212.5,287.9 L1213.5,288.6 L1214.5,289.4 L1215.5,290.2 L1216.5,291.1 L1217.5,292.0 L1218.5,292.9 L1219.5,293.8 L1220.5,294.8 L1221.5,295.8 L1222.5,296.9 L1223.5,298.0 L1224.5,299.1 L1225.5,300.2 L1226.5,301.4 L1227.5,302.6 L1228.5,303.8 L1229.5,305.1 L1230.5,306.4 L1231.5,307.7 L1232.5,309.0 L1233.5,310.4 L1234.5,311.8 L1235.5,313.2 L1236.5,314.6 L1237.5,316.1 L1238.5,317.5 L1239.5,319.0 L1240.5,320.5 L1241.5,322.1 L1242.5,323.6 L1243.5,325.2 L1244.5,326.8 L1245.5,328.3 L1246.5,330.0 L1247.5,331.6 L1248.5,333.2 L1249.5,334.8 L1250.5,336.5 L1251.5,338.2 L1252.5,339.8 L1253.5,341.5 L1254.5,343.2 L1255.5,344.9 L1256.5,346.6 L1257.5,348.3 L1258.5,350.0 L1259.5,351.7 L1260.5,353.4 L1261.5,355.1 L1262.5,356.8 L1263.5,358.5 L1264.5,360.2 L1265.5,361.9 L1266.5,363.6 L1267.5,365.3 L1268.5,367.0 L1269.5,368.7 L1270.5,370.4 L1271.5,372.1 L1272.5,373.7 L1273.5,375.4 L1274.5,377.0 L1275.5,378.7 L1276.5,380.3 L1277.5,381.9 L1278.5,383.5 L1279.5,385.1 L1280.5,386.7 L1281.5,388.3 L1282.5,389.9 L1283.5,391.4 L1284.5,393.0 L1285.5,394.5 L1286.5,396.0 L1287.5,397.5 L1288.5,399.0 L1289.5,400.4 L1290.5,401.9 L1291.5,403.3 L1292.5,404.7 L1293.5,406.1 L1294.5,407.5 L1295.5,408.8 L1296.5,410.2 L1297.5,411.5 L1298.5,412.8 L1299.5,414.1 L1300.5,415.4 L1301.5,416.6 L1302.5,417.8 L1303.5,419.1 L1304.5,420.3 L1305.5,421.4 L1306.5,422.6 L1307.5,423.7 L1308.5,424.8 L1309.5,425.9 L1310.5,427.0 L1311.5,428.1 L1312.5,429.1 L1313.5,430.1 L1314.5,431.1 L1315.5,432.1 L1316.5,433.1 L1317.5,434.0 L1318.5,434.9 L1319.5,435.9 L1320.5,436.7 L1321.5,437.6 L1322.5,438.5 L1323.5,439.3 L1324.5,440.1 L1325.5,440.9 L1326.5,441.7 L1327.5,442.5 L1328.5,443.2 L1329.5,443.9 L1330.5,444.6 L1331.5,445.3 L1332.5,446.0 L1333.5,446.7 L1334.5,447.3 L1335.5,447.9 L1336.5,448.6 L1337.5,449.2 L1338.5,449.7 L1339.5,450.3 L1340.5,450.9 L1341.5,451.4 L1342.5,451.9 L1343.5,452.4 L1344.5,452.9 L1345.5,453.4 L1346.5,453.9 L1347.5,454.3 L1348.5,454.8 L1349.5,455.2 L1350.5,455.6 L1351.5,456.0 L1352.5,456.4 L1353.5,456.8 L1354.5,457.2 L1355.5,457.5 L1356.5,457.9 L1357.5,458.2 L1358.5,458.5 L1359.5,458.8 L1360.5,459.2 L1361.5,459.5 L1362.5,459.7 L1363.5,460.0 L1364.5,460.3 L1365.5,460.5 L1366.5,460.8 L1367.5,461.0 L1368.5,461.3 L1369.5,461.5 L1370.5,461.7 L1371.5,461.9 L1372.5,462.1 L1373.5,462.3 L1374.5,462.5 L1375.5,462.7 L1376.5,462.9 L1377.5,463.1 L1378.5,463.2 L1379.5,463.4 L1380.5,463.5 L1381.5,463.7 L1382.5,463.8 L1383.5,464.0 L1384.5,464.1 L1385.5,464.2 L1386.5,464.4 L1387.5,464.5 L1388.5,464.6 L1389.5,464.7 L1390.5,464.8 L1391.5,464.9 L1392.5,465.0 L1393.5,465.1 L1394.5,465.2 L1395.5,465.3 L1396.5,465.4 L1397.5,465.4 L1398.5,465.5 L1399.5,465.6 L1400.5,465.7 L1401.5,465.7 L1402.5,465.8 L1403.5,465.9 L1404.5,465.9 L1405.5,466.0 L1406.5,466.0 L1407.5,466.1 L1408.5,466.1 L1409.5,466.2 L1410.5,466.2 L1411.5,466.3 L1412.5,466.3 L1413.5,466.4 L1414.5,466.4 L1415.5,466.4 L1416.5,466.5 L1417.5,466.5 L1418.5,466.5 L1419.5,466.6 L1420.5,466.6 L1421.5,466.6 L1422.5,466.7 L1423.5,466.7 L1424.5,466.7 L1425.5,466.7 L1426.5,466.8 L1427.5,466.8 L1428.5,466.8 L1429.5,466.8 L1430.5,466.9 L1431.5,466.9 L1432.5,466.9 L1433.5,466.9 L1434.5,466.9 L1435.5,466.9 L1436.5,467.0 L1437.5,467.0 L1438.5,467.0 L1439.5,467.0 L1440.5,467.0 L1441.5,467.0 L1442.5,467.0 L1443.5,467.1 L1444.5,467.1 L1445.5,467.1" fill="none" stroke="#7b1c7d" stroke-width="5.5" stroke-linejoin="round" stroke-linecap="round" />
<rect x="842.2" y="23.2" width="603.3" height="484.1" fill="none" stroke="#000" stroke-width="4" stroke-linejoin="miter"/>
<line x1="842.2" y1="266.7" x2="1445.5" y2="266.7" stroke="#000" stroke-width="4" stroke-linecap="butt"/>
<line x1="947.0" y1="507.3" x2="947.0" y2="497.3" stroke="#000" stroke-width="4" stroke-linecap="butt"/>
<line x1="1154.5" y1="507.3" x2="1154.5" y2="497.3" stroke="#000" stroke-width="4" stroke-linecap="butt"/>
<line x1="1362.0" y1="507.3" x2="1362.0" y2="497.3" stroke="#000" stroke-width="4" stroke-linecap="butt"/>
<line x1="1050.5" y1="507.3" x2="1050.5" y2="502.3" stroke="#000" stroke-width="4" stroke-linecap="butt"/>
<line x1="1258.5" y1="507.3" x2="1258.5" y2="502.3" stroke="#000" stroke-width="4" stroke-linecap="butt"/>
<text x="858.0" y="65.0" font-size="25" text-anchor="start" >O 1s</text>
<text x="966.5" y="136.0" font-size="25" text-anchor="start" >N-Cu(BDC)</text>
<text x="909.5" y="198.5" font-size="25" text-anchor="start" >C-O</text>
<text x="1342.0" y="95.0" font-size="25" text-anchor="start" >Cu-O</text>
<text x="909.0" y="345.0" font-size="25" text-anchor="start" >B-Cu(BDC)</text>
<text x="947.0" y="544.0" font-size="29.5" text-anchor="middle" >534</text>
<text x="1154.5" y="544.0" font-size="29.5" text-anchor="middle" >532</text>
<text x="1362.0" y="544.0" font-size="29.5" text-anchor="middle" >530</text>
<text x="1154.0" y="580.5" font-size="29" text-anchor="middle" >Binding energy (eV)</text>
<text x="0" y="0" font-size="28.5" text-anchor="middle" transform="translate(823.0,263.0) rotate(-90)" >Intensity</text>
<line x1="957.8" y1="201.4" x2="984.1" y2="212.8" stroke="#000" stroke-width="4.2" stroke-linecap="butt"/>
<polygon points="999.7,219.5 980.4,216.1 984.0,207.8" fill="#000" stroke="#000" stroke-width="4" stroke-linejoin="round"/>
<line x1="1375.2" y1="114.6" x2="1346.0" y2="129.7" stroke="#000" stroke-width="4.2" stroke-linecap="butt"/>
<polygon points="1330.9,137.5 1345.7,124.8 1349.8,132.8" fill="#000" stroke="#000" stroke-width="4" stroke-linejoin="round"/>
<text x="-1.0" y="654.0" font-size="42" text-anchor="start" font-weight="bold" >c</text>
<path d="M103.7,1078.2 C107.3,1078.1 118.1,1078.1 125.0,1077.5 C131.8,1076.9 139.5,1075.6 144.9,1074.5 C150.3,1073.4 153.7,1071.8 157.4,1070.7 C161.2,1069.7 164.5,1069.5 167.4,1068.2 C170.3,1067.0 172.4,1066.0 174.9,1063.3 C177.4,1060.5 179.9,1058.9 182.4,1052.0 C184.9,1045.2 187.4,1032.9 189.9,1022.1 C192.4,1011.2 194.9,996.3 197.4,987.1 C199.9,978.0 202.6,976.7 204.9,967.1 C207.1,957.6 209.0,947.6 211.1,929.7 C213.2,911.8 215.3,881.4 217.3,859.8 C219.4,838.1 221.5,813.2 223.6,799.9 C225.7,786.5 227.5,786.5 229.8,779.9 C232.1,773.2 235.0,767.0 237.3,759.9 C239.6,752.8 241.7,742.6 243.6,737.4 C245.4,732.2 246.7,728.7 248.5,728.7 C250.4,728.7 252.5,732.7 254.8,737.4 C257.1,742.2 259.8,750.8 262.3,757.4 C264.8,764.1 266.9,770.7 269.8,777.4 C272.7,784.1 276.4,791.1 279.8,797.4 C283.1,803.6 286.4,808.6 289.7,814.8 C293.1,821.1 296.0,829.0 299.7,834.8 C303.5,840.6 308.0,845.2 312.2,849.8 C316.4,854.4 320.1,858.1 324.7,862.3 C329.3,866.4 334.7,872.3 339.7,874.8 C344.7,877.3 349.7,877.5 354.6,877.3 C359.6,877.0 365.1,875.8 369.6,873.5 C374.2,871.2 378.0,867.5 382.1,863.5 C386.3,859.6 390.4,854.6 394.6,849.8 C398.8,845.0 402.5,839.8 407.1,834.8 C411.7,829.8 417.1,823.4 422.1,819.8 C427.1,816.3 432.4,814.8 437.0,813.6 C441.7,812.4 443.6,812.1 449.9,812.4 C456.2,812.7 465.7,814.7 474.9,815.4 C484.1,816.2 494.9,816.7 504.9,816.9 C514.8,817.2 525.7,816.2 534.8,816.9 C544.0,817.6 552.3,819.4 559.8,821.2 C567.3,822.9 572.3,824.9 579.8,827.4 C587.2,829.9 596.4,833.9 604.7,836.1 C613.0,838.4 622.2,840.3 629.7,841.1 C637.2,842.0 643.0,842.0 649.7,841.1 C656.3,840.3 663.0,837.5 669.6,836.1 C676.3,834.8 683.4,833.9 689.6,832.9 C695.8,831.9 704.2,830.8 707.1,830.4" fill="none" stroke="#000" stroke-width="5" stroke-linejoin="round" stroke-linecap="round" />
<path d="M103.7,1078.2 C107.3,1078.0 118.1,1077.8 125.0,1077.0 C131.8,1076.1 139.5,1074.5 144.9,1073.2 C150.3,1072.0 153.7,1070.5 157.4,1069.5 C161.2,1068.5 164.5,1068.5 167.4,1067.0 C170.3,1065.5 172.4,1063.7 174.9,1060.8 C177.4,1057.8 180.1,1056.0 182.4,1049.5 C184.7,1043.1 186.5,1032.9 188.6,1022.1 C190.7,1011.2 192.6,994.2 194.9,984.6 C197.2,975.0 199.9,974.6 202.4,964.6 C204.9,954.6 207.4,943.0 209.8,924.7 C212.3,906.4 215.1,874.3 217.3,854.8 C219.6,835.2 221.5,819.0 223.6,807.4 C225.7,795.7 227.5,791.5 229.8,784.9 C232.1,778.2 235.0,772.8 237.3,767.4 C239.6,762.0 241.7,756.0 243.6,752.4 C245.4,748.9 246.7,746.2 248.5,746.2 C250.4,746.2 252.5,748.9 254.8,752.4 C257.1,756.0 259.8,762.4 262.3,767.4 C264.8,772.4 266.9,777.0 269.8,782.4 C272.7,787.8 276.4,794.0 279.8,799.9 C283.1,805.7 286.4,811.9 289.7,817.3 C293.1,822.7 296.0,827.7 299.7,832.3 C303.5,836.9 308.0,840.6 312.2,844.8 C316.4,849.0 320.1,853.3 324.7,857.3 C329.3,861.2 334.7,866.0 339.7,868.5 C344.7,871.0 349.7,872.1 354.6,872.3 C359.6,872.5 365.1,871.8 369.6,869.8 C374.2,867.7 378.0,863.5 382.1,859.8 C386.3,856.0 390.4,851.5 394.6,847.3 C398.8,843.1 402.5,839.0 407.1,834.8 C411.7,830.7 417.1,825.5 422.1,822.3 C427.1,819.2 433.2,817.3 437.0,816.1 C440.9,814.9 438.6,814.7 444.9,814.9 C451.2,815.1 464.9,816.8 474.9,817.4 C484.9,818.0 494.9,818.5 504.9,818.7 C514.8,818.9 525.7,818.3 534.8,818.7 C544.0,819.1 552.3,819.9 559.8,821.2 C567.3,822.4 572.3,823.9 579.8,826.2 C587.2,828.4 596.4,832.6 604.7,834.9 C613.0,837.2 622.2,839.1 629.7,839.9 C637.2,840.7 643.0,840.5 649.7,839.9 C656.3,839.3 663.0,837.4 669.6,836.1 C676.3,834.9 683.4,833.4 689.6,832.4 C695.8,831.4 704.2,830.3 707.1,829.9" fill="none" stroke="#d8272a" stroke-width="5" stroke-linejoin="round" stroke-linecap="round" />
<path d="M103.7,1077.0 C107.3,1076.6 118.1,1075.9 125.0,1074.5 C131.8,1073.0 139.9,1071.2 144.9,1068.2 C149.9,1065.3 152.2,1062.2 154.9,1057.0 C157.6,1051.8 159.3,1045.4 161.2,1037.0 C163.0,1028.7 164.7,1017.1 166.2,1007.1 C167.6,997.1 168.7,984.2 169.9,977.1 C171.2,970.0 172.0,966.9 173.6,964.6 C175.3,962.3 178.0,963.6 179.9,963.4 C181.8,963.2 182.8,966.1 184.9,963.4 C187.0,960.7 189.5,953.6 192.4,947.2 C195.3,940.7 199.4,932.2 202.4,924.7 C205.3,917.2 207.6,910.5 209.8,902.2 C212.1,893.9 214.0,883.9 216.1,874.8 C218.2,865.6 220.5,854.4 222.3,847.3 C224.2,840.2 225.9,835.2 227.3,832.3 C228.8,829.4 229.4,829.2 231.1,829.8 C232.7,830.4 235.0,833.4 237.3,836.1 C239.6,838.8 242.5,844.0 244.8,846.0 C247.1,848.1 249.0,849.0 251.0,848.5 C253.1,848.1 255.0,846.9 257.3,843.6 C259.6,840.2 262.3,831.9 264.8,828.6 C267.3,825.2 270.2,823.8 272.3,823.6 C274.3,823.4 275.2,824.6 277.3,827.3 C279.3,830.0 281.8,836.1 284.7,839.8 C287.7,843.6 291.0,846.9 294.7,849.8 C298.5,852.7 303.9,856.2 307.2,857.3 C310.5,858.3 311.8,857.1 314.7,856.0 C317.6,855.0 320.5,854.0 324.7,851.0 C328.9,848.1 334.3,842.7 339.7,838.6 C345.1,834.4 351.7,829.2 357.1,826.1 C362.6,823.0 367.5,820.0 372.1,819.8 C376.7,819.6 380.4,822.1 384.6,824.8 C388.8,827.5 392.9,832.9 397.1,836.1 C401.3,839.2 405.4,842.1 409.6,843.6 C413.7,845.0 417.5,845.0 422.1,844.8 C426.6,844.6 432.4,843.1 437.0,842.3 C441.7,841.5 444.9,840.3 449.9,839.9 C455.0,839.5 460.7,840.7 467.4,839.9 C474.1,839.1 483.2,836.1 489.9,834.9 C496.5,833.6 500.7,834.1 507.4,832.4 C514.0,830.7 521.9,827.2 529.8,824.9 C537.7,822.6 546.0,820.7 554.8,818.7 C563.5,816.6 574.8,812.6 582.2,812.4 C589.7,812.2 592.7,814.7 599.7,817.4 C606.8,820.1 616.4,825.7 624.7,828.7 C633.0,831.6 643.0,833.4 649.7,834.9 C656.3,836.4 658.8,835.9 664.6,837.4 C670.5,838.8 677.5,842.2 684.6,843.6 C691.7,845.1 703.3,845.7 707.1,846.1" fill="none" stroke="#2a52a6" stroke-width="5" stroke-linejoin="round" stroke-linecap="round" />
<rect x="435" y="862" width="266" height="213.5" fill="#fff"/>
<path d="M435.0,1070.8 L467.4,1063.3 L492.4,1054.6 L514.8,1039.6 L534.8,1017.1 L559.8,989.7 L584.7,969.7 L607.2,958.5 L632.2,948.5 L654.6,932.3 L679.6,907.3 L699.6,878.6" fill="none" stroke="#000" stroke-width="3" stroke-linejoin="round" stroke-linecap="round" />
<path d="M435.0,1067.1 L467.4,1058.3 L492.4,1047.1 L514.8,1032.1 L534.8,1005.9 L559.8,978.4 L584.7,957.2 L607.2,944.7 L632.2,932.3 L654.6,914.8 L679.6,891.1 L700.8,863.6" fill="none" stroke="#d8272a" stroke-width="3" stroke-linejoin="round" stroke-linecap="round" />
<rect x="435.0" y="862.3" width="266.0" height="213.2" fill="none" stroke="#000" stroke-width="3" stroke-linejoin="miter"/>
<line x1="435.0" y1="879.6" x2="441.0" y2="879.6" stroke="#000" stroke-width="2" stroke-linecap="butt"/>
<line x1="435.0" y1="951.7" x2="441.0" y2="951.7" stroke="#000" stroke-width="2" stroke-linecap="butt"/>
<line x1="435.0" y1="1022.1" x2="441.0" y2="1022.1" stroke="#000" stroke-width="2" stroke-linecap="butt"/>
<line x1="435.0" y1="915.0" x2="438.0" y2="915.0" stroke="#000" stroke-width="2" stroke-linecap="butt"/>
<line x1="435.0" y1="986.5" x2="438.0" y2="986.5" stroke="#000" stroke-width="2" stroke-linecap="butt"/>
<line x1="435.0" y1="1057.0" x2="438.0" y2="1057.0" stroke="#000" stroke-width="2" stroke-linecap="butt"/>
<line x1="467.4" y1="1075.5" x2="467.4" y2="1069.5" stroke="#000" stroke-width="2" stroke-linecap="butt"/>
<line x1="567.3" y1="1075.5" x2="567.3" y2="1069.5" stroke="#000" stroke-width="2" stroke-linecap="butt"/>
<line x1="667.1" y1="1075.5" x2="667.1" y2="1069.5" stroke="#000" stroke-width="2" stroke-linecap="butt"/>
<line x1="517.3" y1="1075.5" x2="517.3" y2="1072.5" stroke="#000" stroke-width="2" stroke-linecap="butt"/>
<line x1="617.2" y1="1075.5" x2="617.2" y2="1072.5" stroke="#000" stroke-width="2" stroke-linecap="butt"/>
<text x="426.5" y="885.1" font-size="16" text-anchor="end" >0.6</text>
<text x="426.5" y="957.2" font-size="16" text-anchor="end" >0.4</text>
<text x="426.5" y="1027.6" font-size="16" text-anchor="end" >0.2</text>
<text x="467.4" y="1096.0" font-size="16" text-anchor="middle" >8982</text>
<text x="567.3" y="1096.0" font-size="16" text-anchor="middle" >8985</text>
<text x="667.1" y="1096.0" font-size="16" text-anchor="middle" >8988</text>
<text x="567.3" y="1117.0" font-size="16" text-anchor="middle" >Energy (eV)</text>
<text x="0" y="0" font-size="16" text-anchor="middle" transform="translate(391.0,960.5) rotate(-90)" >Normalized &#956;(E)</text>
<rect x="104.2" y="646.0" width="603.6" height="484.5" fill="none" stroke="#000" stroke-width="4" stroke-linejoin="miter"/>
<line x1="104.2" y1="671.5" x2="114.2" y2="671.5" stroke="#000" stroke-width="4" stroke-linecap="butt"/>
<line x1="104.2" y1="773.5" x2="114.2" y2="773.5" stroke="#000" stroke-width="4" stroke-linecap="butt"/>
<line x1="104.2" y1="875.5" x2="114.2" y2="875.5" stroke="#000" stroke-width="4" stroke-linecap="butt"/>
<line x1="104.2" y1="977.5" x2="114.2" y2="977.5" stroke="#000" stroke-width="4" stroke-linecap="butt"/>
<line x1="104.2" y1="1080.0" x2="114.2" y2="1080.0" stroke="#000" stroke-width="4" stroke-linecap="butt"/>
<line x1="104.2" y1="722.5" x2="109.2" y2="722.5" stroke="#000" stroke-width="4" stroke-linecap="butt"/>
<line x1="104.2" y1="824.5" x2="109.2" y2="824.5" stroke="#000" stroke-width="4" stroke-linecap="butt"/>
<line x1="104.2" y1="926.5" x2="109.2" y2="926.5" stroke="#000" stroke-width="4" stroke-linecap="butt"/>
<line x1="104.2" y1="1028.7" x2="109.2" y2="1028.7" stroke="#000" stroke-width="4" stroke-linecap="butt"/>
<line x1="259.5" y1="1130.5" x2="259.5" y2="1120.5" stroke="#000" stroke-width="4" stroke-linecap="butt"/>
<line x1="439.0" y1="1130.5" x2="439.0" y2="1120.5" stroke="#000" stroke-width="4" stroke-linecap="butt"/>
<line x1="618.5" y1="1130.5" x2="618.5" y2="1120.5" stroke="#000" stroke-width="4" stroke-linecap="butt"/>
<line x1="170.5" y1="1130.5" x2="170.5" y2="1125.5" stroke="#000" stroke-width="4" stroke-linecap="butt"/>
<line x1="349.2" y1="1130.5" x2="349.2" y2="1125.5" stroke="#000" stroke-width="4" stroke-linecap="butt"/>
<line x1="528.6" y1="1130.5" x2="528.6" y2="1125.5" stroke="#000" stroke-width="4" stroke-linecap="butt"/>
<text x="90.5" y="681.5" font-size="29.5" text-anchor="end" >1.6</text>
<text x="90.5" y="783.5" font-size="29.5" text-anchor="end" >1.2</text>
<text x="90.5" y="885.5" font-size="29.5" text-anchor="end" >0.8</text>
<text x="90.5" y="987.5" font-size="29.5" text-anchor="end" >0.4</text>
<text x="90.5" y="1090.0" font-size="29.5" text-anchor="end" >0.0</text>
<text x="259.5" y="1166.0" font-size="29.5" text-anchor="middle" >9000</text>
<text x="439.0" y="1166.0" font-size="29.5" text-anchor="middle" >9040</text>
<text x="618.5" y="1166.0" font-size="29.5" text-anchor="middle" >9080</text>
<text x="439.0" y="1205.5" font-size="29" text-anchor="middle" >Energy (eV)</text>
<text x="0" y="0" font-size="29" text-anchor="middle" transform="translate(26.5,875.0) rotate(-90)" >Normalized &#956;(E)</text>
<line x1="362.5" y1="679.0" x2="417.5" y2="679.0" stroke="#d8272a" stroke-width="5" stroke-linecap="butt"/>
<line x1="362.5" y1="735.0" x2="417.5" y2="735.0" stroke="#000" stroke-width="5" stroke-linecap="butt"/>
<line x1="362.5" y1="791.5" x2="417.5" y2="791.5" stroke="#2a52a6" stroke-width="5" stroke-linecap="butt"/>
<text x="427.0" y="688.5" font-size="25" text-anchor="start" >N-Cu(BDC)</text>
<text x="427.0" y="744.5" font-size="25" text-anchor="start" >B-Cu(BDC)</text>
<text x="427.0" y="801.0" font-size="25" text-anchor="start" >Cu foil</text>
<text x="749.0" y="654.0" font-size="42" text-anchor="start" font-weight="bold" >d</text>
<path d="M854.2,1054.2 C855.4,1051.1 859.0,1042.4 861.4,1035.2 C863.7,1028.1 866.1,1019.4 868.5,1011.5 C870.9,1003.6 873.4,996.4 875.6,987.7 C877.8,979.0 879.6,968.7 881.6,959.2 C883.5,949.7 885.3,937.5 887.5,930.7 C889.7,924.0 892.4,922.4 894.6,918.9 C896.8,915.3 899.0,913.7 900.6,909.4 C902.1,905.0 902.9,900.7 904.1,892.7 C905.3,884.8 906.5,874.9 907.7,861.9 C908.9,848.8 909.9,832.2 911.2,814.4 C912.6,796.6 914.4,775.2 916.0,755.0 C917.6,734.8 919.3,705.1 920.7,693.2 C922.2,681.4 923.5,683.7 924.8,683.7 C926.1,683.7 927.0,683.4 928.3,693.2 C929.7,703.1 931.3,724.9 932.6,743.1 C933.9,761.3 934.8,780.7 936.2,802.5 C937.6,824.3 939.5,850.0 940.9,873.7 C942.3,897.5 943.4,921.2 944.5,945.0 C945.6,968.7 946.5,995.3 947.3,1016.2 C948.2,1037.2 948.8,1066.9 949.7,1070.9 C950.6,1074.8 951.5,1055.0 952.8,1040.0 C954.1,1024.9 956.2,994.1 957.6,980.6 C958.9,967.2 959.7,963.8 961.1,959.2 C962.5,954.7 964.3,952.5 965.9,953.3 C967.5,954.1 968.8,958.2 970.6,964.0 C972.4,969.7 974.6,979.4 976.6,987.7 C978.5,996.0 980.5,1009.1 982.5,1013.9 C984.5,1018.6 986.1,1016.0 988.4,1016.2 C990.8,1016.4 994.2,1013.9 996.7,1015.0 C999.3,1016.2 1001.3,1019.6 1003.9,1023.4 C1006.4,1027.1 1009.4,1039.2 1012.2,1037.6 C1015.0,1036.0 1017.9,1019.4 1020.5,1013.9 C1023.1,1008.3 1025.4,1004.4 1027.6,1004.4 C1029.8,1004.4 1031.6,1008.7 1033.6,1013.9 C1035.5,1019.0 1037.5,1030.3 1039.5,1035.2 C1041.5,1040.2 1043.4,1044.7 1045.4,1043.5 C1047.4,1042.4 1049.0,1032.7 1051.4,1028.1 C1053.7,1023.6 1056.7,1017.8 1059.7,1016.2 C1062.6,1014.7 1066.2,1018.2 1069.2,1018.6 C1072.1,1019.0 1074.7,1019.2 1077.5,1018.6 C1080.3,1018.0 1082.6,1014.8 1085.8,1015.0 C1089.0,1015.2 1091.7,1016.8 1096.5,1019.8 C1101.3,1022.8 1110.0,1028.4 1114.6,1033.0 C1119.3,1037.7 1120.7,1042.0 1124.3,1047.6 C1128.0,1053.3 1132.5,1063.1 1136.5,1067.1 C1140.6,1071.2 1143.4,1070.0 1148.7,1072.0 C1154.0,1074.0 1162.9,1079.1 1168.2,1079.3 C1173.4,1079.5 1175.5,1074.8 1180.3,1073.2 C1185.2,1071.6 1191.3,1068.7 1197.4,1069.6 C1203.5,1070.4 1210.4,1077.3 1216.9,1078.1 C1223.4,1078.9 1229.9,1076.3 1236.3,1074.4 C1242.8,1072.6 1250.1,1067.9 1255.8,1067.1 C1261.5,1066.3 1265.6,1067.9 1270.4,1069.6 C1275.3,1071.2 1280.2,1076.0 1285.0,1076.9 C1289.9,1077.8 1294.0,1074.3 1299.6,1074.9 C1305.3,1075.5 1313.4,1080.0 1319.1,1080.5 C1324.8,1081.0 1328.9,1078.1 1333.7,1078.1 C1338.6,1078.1 1342.7,1080.5 1348.3,1080.5 C1354.0,1080.5 1360.5,1078.2 1367.8,1078.1 C1375.1,1078.0 1384.0,1079.4 1392.2,1079.8 C1400.3,1080.2 1407.7,1080.5 1416.5,1080.5 C1425.4,1080.5 1440.5,1079.9 1445.2,1079.8" fill="none" stroke="#000" stroke-width="5" stroke-linejoin="round" stroke-linecap="round" />
<path d="M842.4,1056.6 C843.6,1058.4 847.3,1066.9 849.5,1067.3 C851.7,1067.7 853.5,1062.2 855.4,1059.0 C857.4,1055.8 859.0,1048.9 861.4,1048.3 C863.7,1047.7 867.5,1055.2 869.7,1055.4 C871.9,1055.6 872.9,1056.0 874.4,1049.5 C876.0,1043.0 877.6,1028.5 879.2,1016.2 C880.8,1004.0 882.4,987.7 883.9,975.9 C885.5,964.0 887.1,952.3 888.7,945.0 C890.3,937.7 891.5,933.3 893.4,931.9 C895.4,930.5 898.6,939.2 900.6,936.7 C902.5,934.1 903.9,927.0 905.3,916.5 C906.7,906.0 907.7,890.8 908.9,873.7 C910.1,856.7 911.2,834.2 912.4,814.4 C913.6,794.6 914.6,772.8 916.0,755.0 C917.4,737.2 919.2,717.4 920.7,707.5 C922.3,697.6 923.6,695.6 925.0,695.6 C926.4,695.6 927.6,697.6 929.1,707.5 C930.5,717.4 932.4,737.2 933.8,755.0 C935.2,772.8 936.2,794.6 937.4,814.4 C938.6,834.2 939.7,852.0 940.9,873.7 C942.1,895.5 943.4,923.2 944.5,945.0 C945.6,966.8 946.4,986.9 947.3,1004.4 C948.3,1021.8 949.3,1045.5 950.4,1049.5 C951.5,1053.4 952.6,1039.6 954.0,1028.1 C955.4,1016.6 957.2,992.1 958.7,980.6 C960.3,969.1 961.9,961.6 963.5,959.2 C965.1,956.9 966.7,961.6 968.2,966.4 C969.8,971.1 971.4,980.2 973.0,987.7 C974.6,995.3 976.0,1004.4 977.7,1011.5 C979.5,1018.6 981.7,1026.9 983.7,1030.5 C985.7,1034.0 987.2,1033.1 989.6,1032.9 C992.0,1032.7 995.6,1029.1 997.9,1029.3 C1000.3,1029.5 1001.3,1031.9 1003.9,1034.0 C1006.4,1036.2 1010.6,1042.6 1013.4,1042.4 C1016.1,1042.2 1017.9,1036.8 1020.5,1032.9 C1023.1,1028.9 1026.4,1019.8 1028.8,1018.6 C1031.2,1017.4 1032.6,1021.8 1034.7,1025.7 C1036.9,1029.7 1039.9,1038.6 1041.9,1042.4 C1043.8,1046.1 1044.8,1049.1 1046.6,1048.3 C1048.4,1047.5 1050.4,1041.4 1052.6,1037.6 C1054.7,1033.8 1057.1,1028.7 1059.7,1025.7 C1062.3,1022.8 1064.6,1020.4 1068.0,1019.8 C1071.4,1019.2 1075.5,1020.8 1079.9,1022.2 C1084.2,1023.6 1088.7,1024.7 1094.1,1028.1 C1099.5,1031.5 1106.7,1037.5 1112.2,1042.8 C1117.6,1048.1 1122.3,1055.8 1126.8,1059.8 C1131.2,1063.9 1135.3,1065.3 1139.0,1067.1 C1142.6,1069.0 1144.8,1068.5 1148.7,1070.8 C1152.5,1073.0 1158.0,1080.3 1162.1,1080.5 C1166.1,1080.7 1168.8,1074.0 1173.0,1072.0 C1177.3,1070.0 1183.2,1068.5 1187.6,1068.3 C1192.1,1068.1 1195.4,1069.2 1199.8,1070.8 C1204.3,1072.4 1209.6,1077.7 1214.4,1078.1 C1219.3,1078.5 1223.8,1074.2 1229.0,1073.2 C1234.3,1072.2 1240.4,1072.8 1246.1,1072.0 C1251.8,1071.2 1258.3,1068.1 1263.1,1068.3 C1268.0,1068.5 1271.2,1071.2 1275.3,1073.2 C1279.4,1075.2 1283.4,1079.7 1287.5,1080.5 C1291.5,1081.3 1295.6,1078.5 1299.6,1078.1 C1303.7,1077.7 1306.9,1078.7 1311.8,1078.1 C1316.7,1077.5 1323.6,1074.8 1328.9,1074.4 C1334.1,1074.0 1338.6,1075.0 1343.5,1075.6 C1348.3,1076.3 1351.2,1077.4 1358.1,1078.1 C1365.0,1078.8 1376.7,1079.8 1384.9,1080.0 C1393.0,1080.2 1399.5,1079.1 1406.8,1079.3 C1414.1,1079.5 1422.3,1080.9 1428.7,1081.0 C1435.1,1081.1 1442.5,1080.2 1445.2,1080.0" fill="none" stroke="#d8272a" stroke-width="5" stroke-linejoin="round" stroke-linecap="round" />
<rect x="842.2" y="646.0" width="603.3" height="483.7" fill="none" stroke="#000" stroke-width="4" stroke-linejoin="miter"/>
<line x1="842.2" y1="693.3" x2="852.2" y2="693.3" stroke="#000" stroke-width="4" stroke-linecap="butt"/>
<line x1="842.2" y1="790.6" x2="852.2" y2="790.6" stroke="#000" stroke-width="4" stroke-linecap="butt"/>
<line x1="842.2" y1="887.5" x2="852.2" y2="887.5" stroke="#000" stroke-width="4" stroke-linecap="butt"/>
<line x1="842.2" y1="984.6" x2="852.2" y2="984.6" stroke="#000" stroke-width="4" stroke-linecap="butt"/>
<line x1="842.2" y1="1082.0" x2="852.2" y2="1082.0" stroke="#000" stroke-width="4" stroke-linecap="butt"/>
<line x1="842.2" y1="742.0" x2="847.2" y2="742.0" stroke="#000" stroke-width="4" stroke-linecap="butt"/>
<line x1="842.2" y1="838.5" x2="847.2" y2="838.5" stroke="#000" stroke-width="4" stroke-linecap="butt"/>
<line x1="842.2" y1="936.0" x2="847.2" y2="936.0" stroke="#000" stroke-width="4" stroke-linecap="butt"/>
<line x1="842.2" y1="1033.0" x2="847.2" y2="1033.0" stroke="#000" stroke-width="4" stroke-linecap="butt"/>
<line x1="963.0" y1="1129.7" x2="963.0" y2="1119.7" stroke="#000" stroke-width="4" stroke-linecap="butt"/>
<line x1="1123.6" y1="1129.7" x2="1123.6" y2="1119.7" stroke="#000" stroke-width="4" stroke-linecap="butt"/>
<line x1="1284.5" y1="1129.7" x2="1284.5" y2="1119.7" stroke="#000" stroke-width="4" stroke-linecap="butt"/>
<line x1="883.5" y1="1129.7" x2="883.5" y2="1124.7" stroke="#000" stroke-width="4" stroke-linecap="butt"/>
<line x1="1043.5" y1="1129.7" x2="1043.5" y2="1124.7" stroke="#000" stroke-width="4" stroke-linecap="butt"/>
<line x1="1204.2" y1="1129.7" x2="1204.2" y2="1124.7" stroke="#000" stroke-width="4" stroke-linecap="butt"/>
<line x1="1364.9" y1="1129.7" x2="1364.9" y2="1124.7" stroke="#000" stroke-width="4" stroke-linecap="butt"/>
<text x="830.0" y="703.3" font-size="29.5" text-anchor="end" >8</text>
<text x="830.0" y="800.6" font-size="29.5" text-anchor="end" >6</text>
<text x="830.0" y="897.5" font-size="29.5" text-anchor="end" >4</text>
<text x="830.0" y="994.6" font-size="29.5" text-anchor="end" >2</text>
<text x="830.0" y="1092.0" font-size="29.5" text-anchor="end" >0</text>
<text x="963.0" y="1166.0" font-size="29.5" text-anchor="middle" >2</text>
<text x="1123.6" y="1166.0" font-size="29.5" text-anchor="middle" >4</text>
<text x="1284.5" y="1166.0" font-size="29.5" text-anchor="middle" >6</text>
<text x="1445.0" y="1166.0" font-size="29.5" text-anchor="middle" >8</text>
<text x="1145" y="1205" font-size="29" text-anchor="middle"><tspan font-style="italic">R</tspan> (&#197;)</text>
<line x1="1080.5" y1="695.0" x2="1135.5" y2="695.0" stroke="#d8272a" stroke-width="5" stroke-linecap="butt"/>
<line x1="1080.5" y1="752.0" x2="1135.5" y2="752.0" stroke="#000" stroke-width="5" stroke-linecap="butt"/>
<text x="1147.0" y="704.5" font-size="25" text-anchor="start" >N-Cu(BDC)</text>
<text x="1147.0" y="760.0" font-size="25" text-anchor="start" >B-Cu(BDC)</text>
<g transform="translate(787.6,961) rotate(-90)"><rect x="0" y="-29.3" width="2.3" height="32.5" fill="#000"/><rect x="76.1" y="-29.3" width="2.3" height="32.5" fill="#000"/><text x="8" y="-3.5" font-size="29">&#967;</text><text x="26" y="0" font-size="29">(<tspan font-style="italic">R</tspan>)</text><text x="94" y="0" font-size="29">(&#197;</text><text x="121.5" y="-12.4" font-size="21">&#8722;3</text><text x="145.5" y="0" font-size="29">)</text></g>
<text x="-1.0" y="1289.0" font-size="42" text-anchor="start" font-weight="bold" >e</text>
<path d="M142.5,1693.1 C143.5,1690.7 146.3,1682.6 148.6,1678.5 C150.8,1674.5 153.6,1669.6 155.9,1668.8 C158.1,1668.0 160.1,1671.3 161.9,1673.7 C163.7,1676.1 165.4,1683.0 166.8,1683.4 C168.2,1683.8 169.2,1681.8 170.4,1676.1 C171.6,1670.5 172.7,1659.1 174.1,1649.4 C175.5,1639.7 177.3,1626.3 178.9,1617.8 C180.5,1609.3 182.0,1602.7 183.8,1598.4 C185.6,1594.2 188.2,1594.0 189.9,1592.3 C191.5,1590.7 192.3,1592.1 193.5,1588.7 C194.7,1585.3 195.9,1581.0 197.1,1571.7 C198.4,1562.4 199.6,1548.2 200.8,1532.8 C202.0,1517.5 203.2,1498.0 204.4,1479.4 C205.6,1460.8 206.9,1440.6 208.1,1421.1 C209.3,1401.7 210.5,1378.6 211.7,1362.9 C212.9,1347.1 214.1,1335.1 215.4,1326.4 C216.6,1317.7 218.1,1312.7 219.5,1310.6 C220.8,1308.6 222.2,1310.4 223.4,1314.3 C224.5,1318.1 225.2,1321.6 226.3,1333.7 C227.4,1345.9 228.7,1366.9 229.9,1387.1 C231.1,1407.4 232.3,1430.8 233.6,1455.1 C234.8,1479.4 236.1,1507.7 237.2,1532.8 C238.3,1557.9 239.4,1581.4 240.4,1605.7 C241.4,1630.0 242.5,1661.1 243.3,1678.5 C244.1,1696.0 244.5,1709.3 245.2,1710.1 C245.9,1710.9 246.5,1696.8 247.4,1683.4 C248.3,1670.0 249.4,1645.0 250.6,1630.0 C251.7,1615.0 253.0,1602.9 254.2,1593.6 C255.4,1584.2 256.6,1577.8 257.8,1574.1 C259.1,1570.5 260.3,1570.5 261.5,1571.7 C262.7,1572.9 263.7,1575.3 265.1,1581.4 C266.5,1587.5 268.4,1598.4 270.0,1608.1 C271.6,1617.8 273.2,1630.0 274.8,1639.7 C276.5,1649.4 277.7,1661.5 279.7,1666.4 C281.7,1671.3 284.8,1668.0 287.0,1668.8 C289.2,1669.6 291.0,1669.6 293.1,1671.3 C295.1,1672.9 296.9,1679.8 299.1,1678.5 C301.4,1677.3 303.6,1669.2 306.4,1664.0 C309.2,1658.7 313.3,1647.4 316.1,1647.0 C319.0,1646.6 320.4,1656.7 323.4,1661.5 C326.5,1666.4 331.1,1674.9 334.3,1676.1 C337.6,1677.3 339.8,1671.7 342.8,1668.8 C345.9,1666.0 348.9,1661.5 352.6,1659.1 C356.2,1656.7 361.1,1654.9 364.7,1654.3 C368.3,1653.7 371.9,1654.2 374.4,1655.5 C376.9,1656.7 376.4,1658.4 379.8,1661.7 C383.2,1665.0 389.7,1670.8 394.7,1675.3 C399.6,1679.9 405.0,1684.4 409.5,1688.9 C414.1,1693.5 418.0,1698.2 421.9,1702.6 C425.8,1706.9 428.5,1713.3 433.0,1714.9 C437.6,1716.6 443.1,1713.6 449.1,1712.5 C455.1,1711.3 462.3,1707.8 468.9,1708.2 C475.5,1708.7 482.1,1713.8 488.7,1714.9 C495.3,1716.0 503.2,1715.8 508.6,1714.9 C513.9,1714.1 516.4,1711.5 520.9,1710.0 C525.5,1708.5 530.0,1705.6 535.8,1705.8 C541.6,1706.0 548.6,1709.5 555.6,1711.2 C562.6,1713.0 571.7,1715.6 577.9,1716.2 C584.1,1716.8 587.8,1715.3 592.7,1714.9 C597.7,1714.5 601.8,1713.5 607.6,1713.7 C613.4,1713.9 620.0,1716.2 627.4,1716.2 C634.8,1716.2 644.7,1713.7 652.2,1713.7 C659.6,1713.7 662.7,1715.6 672.0,1716.2 C681.2,1716.8 701.9,1717.2 707.9,1717.4" fill="none" stroke="#000" stroke-width="4.6" stroke-linejoin="round" stroke-linecap="round" />
<g fill="#fff" stroke="#e0302c" stroke-width="1.1"><circle cx="113.4" cy="1699.2" r="3.6"/><circle cx="115.6" cy="1701.7" r="3.6"/><circle cx="117.9" cy="1702.8" r="3.6"/><circle cx="120.1" cy="1701.2" r="3.6"/><circle cx="122.4" cy="1696.2" r="3.6"/><circle cx="124.6" cy="1689.9" r="3.6"/><circle cx="126.9" cy="1685.1" r="3.6"/><circle cx="129.1" cy="1681.9" r="3.6"/><circle cx="131.4" cy="1680.9" r="3.6"/><circle cx="133.6" cy="1683.3" r="3.6"/><circle cx="135.9" cy="1687.3" r="3.6"/><circle cx="138.1" cy="1692.4" r="3.6"/><circle cx="140.4" cy="1697.2" r="3.6"/><circle cx="142.6" cy="1700.3" r="3.6"/><circle cx="144.9" cy="1699.3" r="3.6"/><circle cx="147.1" cy="1695.0" r="3.6"/><circle cx="149.4" cy="1689.6" r="3.6"/><circle cx="151.6" cy="1682.5" r="3.6"/><circle cx="153.9" cy="1678.5" r="3.6"/><circle cx="156.1" cy="1676.4" r="3.6"/><circle cx="158.4" cy="1676.6" r="3.6"/><circle cx="160.6" cy="1679.2" r="3.6"/><circle cx="162.9" cy="1682.9" r="3.6"/><circle cx="165.1" cy="1687.8" r="3.6"/><circle cx="167.4" cy="1688.0" r="3.6"/><circle cx="169.6" cy="1685.0" r="3.6"/><circle cx="171.9" cy="1677.6" r="3.6"/><circle cx="174.1" cy="1666.2" r="3.6"/><circle cx="176.4" cy="1655.0" r="3.6"/><circle cx="178.6" cy="1639.9" r="3.6"/><circle cx="180.9" cy="1630.2" r="3.6"/><circle cx="183.1" cy="1623.8" r="3.6"/><circle cx="185.4" cy="1619.4" r="3.6"/><circle cx="187.6" cy="1615.5" r="3.6"/><circle cx="189.9" cy="1611.8" r="3.6"/><circle cx="192.1" cy="1607.4" r="3.6"/><circle cx="194.4" cy="1599.1" r="3.6"/><circle cx="196.6" cy="1583.6" r="3.6"/><circle cx="198.9" cy="1556.7" r="3.6"/><circle cx="201.1" cy="1527.4" r="3.6"/><circle cx="203.4" cy="1495.3" r="3.6"/><circle cx="205.6" cy="1458.8" r="3.6"/><circle cx="207.9" cy="1418.7" r="3.6"/><circle cx="210.1" cy="1387.2" r="3.6"/><circle cx="212.4" cy="1360.4" r="3.6"/><circle cx="214.6" cy="1333.9" r="3.6"/><circle cx="216.9" cy="1317.6" r="3.6"/><circle cx="219.1" cy="1311.6" r="3.6"/><circle cx="221.4" cy="1312.8" r="3.6"/><circle cx="223.6" cy="1321.8" r="3.6"/><circle cx="225.9" cy="1342.9" r="3.6"/><circle cx="228.1" cy="1365.7" r="3.6"/><circle cx="230.4" cy="1398.5" r="3.6"/><circle cx="232.6" cy="1439.0" r="3.6"/><circle cx="234.9" cy="1481.1" r="3.6"/><circle cx="237.1" cy="1532.1" r="3.6"/><circle cx="239.4" cy="1583.4" r="3.6"/><circle cx="241.6" cy="1630.3" r="3.6"/><circle cx="243.9" cy="1683.4" r="3.6"/><circle cx="246.1" cy="1701.2" r="3.6"/><circle cx="248.4" cy="1679.5" r="3.6"/><circle cx="250.6" cy="1646.5" r="3.6"/><circle cx="252.9" cy="1612.1" r="3.6"/><circle cx="255.1" cy="1591.0" r="3.6"/><circle cx="257.4" cy="1578.6" r="3.6"/><circle cx="259.6" cy="1570.7" r="3.6"/><circle cx="261.9" cy="1570.6" r="3.6"/><circle cx="264.1" cy="1573.4" r="3.6"/><circle cx="266.4" cy="1581.5" r="3.6"/><circle cx="268.6" cy="1595.3" r="3.6"/><circle cx="270.9" cy="1609.2" r="3.6"/><circle cx="273.1" cy="1627.8" r="3.6"/><circle cx="275.4" cy="1643.5" r="3.6"/><circle cx="277.6" cy="1658.2" r="3.6"/><circle cx="279.9" cy="1674.4" r="3.6"/><circle cx="282.1" cy="1683.3" r="3.6"/><circle cx="284.4" cy="1688.2" r="3.6"/><circle cx="286.6" cy="1691.4" r="3.6"/><circle cx="288.9" cy="1692.6" r="3.6"/><circle cx="291.1" cy="1693.8" r="3.6"/><circle cx="293.4" cy="1696.0" r="3.6"/><circle cx="295.6" cy="1698.8" r="3.6"/><circle cx="297.9" cy="1702.4" r="3.6"/><circle cx="300.1" cy="1706.8" r="3.6"/><circle cx="302.4" cy="1709.6" r="3.6"/><circle cx="304.6" cy="1710.4" r="3.6"/><circle cx="306.9" cy="1710.0" r="3.6"/><circle cx="309.1" cy="1708.4" r="3.6"/><circle cx="311.4" cy="1706.3" r="3.6"/><circle cx="313.6" cy="1705.3" r="3.6"/><circle cx="315.9" cy="1705.9" r="3.6"/><circle cx="318.1" cy="1707.6" r="3.6"/><circle cx="320.4" cy="1709.6" r="3.6"/><circle cx="322.6" cy="1711.9" r="3.6"/><circle cx="324.9" cy="1714.8" r="3.6"/><circle cx="327.1" cy="1717.0" r="3.6"/><circle cx="329.4" cy="1717.1" r="3.6"/><circle cx="331.6" cy="1714.8" r="3.6"/><circle cx="333.9" cy="1711.9" r="3.6"/><circle cx="336.1" cy="1709.7" r="3.6"/><circle cx="338.4" cy="1708.1" r="3.6"/><circle cx="340.6" cy="1706.9" r="3.6"/><circle cx="342.9" cy="1706.5" r="3.6"/><circle cx="345.1" cy="1707.0" r="3.6"/><circle cx="347.4" cy="1708.3" r="3.6"/><circle cx="349.6" cy="1709.8" r="3.6"/><circle cx="351.9" cy="1711.4" r="3.6"/><circle cx="354.1" cy="1713.3" r="3.6"/><circle cx="356.4" cy="1714.7" r="3.6"/><circle cx="358.6" cy="1714.9" r="3.6"/><circle cx="360.9" cy="1714.0" r="3.6"/><circle cx="363.1" cy="1712.7" r="3.6"/><circle cx="365.4" cy="1711.6" r="3.6"/><circle cx="367.6" cy="1711.4" r="3.6"/><circle cx="369.9" cy="1712.0" r="3.6"/><circle cx="372.1" cy="1713.1" r="3.6"/><circle cx="374.4" cy="1714.3" r="3.6"/><circle cx="376.6" cy="1715.4" r="3.6"/><circle cx="378.9" cy="1716.1" r="3.6"/><circle cx="381.1" cy="1716.1" r="3.6"/><circle cx="383.4" cy="1715.3" r="3.6"/><circle cx="385.6" cy="1714.2" r="3.6"/><circle cx="387.9" cy="1713.0" r="3.6"/><circle cx="390.1" cy="1712.1" r="3.6"/><circle cx="392.4" cy="1711.7" r="3.6"/><circle cx="394.6" cy="1712.1" r="3.6"/><circle cx="396.9" cy="1713.1" r="3.6"/><circle cx="399.1" cy="1714.3" r="3.6"/><circle cx="401.4" cy="1715.3" r="3.6"/><circle cx="403.6" cy="1716.1" r="3.6"/><circle cx="405.9" cy="1716.1" r="3.6"/><circle cx="408.1" cy="1715.6" r="3.6"/><circle cx="410.4" cy="1714.7" r="3.6"/><circle cx="412.6" cy="1713.7" r="3.6"/><circle cx="414.9" cy="1713.1" r="3.6"/><circle cx="417.1" cy="1713.0" r="3.6"/><circle cx="419.4" cy="1713.5" r="3.6"/><circle cx="421.6" cy="1714.4" r="3.6"/><circle cx="423.9" cy="1715.5" r="3.6"/><circle cx="426.1" cy="1716.7" r="3.6"/><circle cx="428.4" cy="1717.7" r="3.6"/><circle cx="430.6" cy="1718.5" r="3.6"/><circle cx="432.9" cy="1718.7" r="3.6"/><circle cx="435.1" cy="1718.3" r="3.6"/><circle cx="437.4" cy="1717.5" r="3.6"/><circle cx="439.6" cy="1716.7" r="3.6"/><circle cx="441.9" cy="1716.0" r="3.6"/><circle cx="444.1" cy="1715.7" r="3.6"/><circle cx="446.4" cy="1715.9" r="3.6"/><circle cx="448.6" cy="1716.4" r="3.6"/><circle cx="450.9" cy="1717.1" r="3.6"/><circle cx="453.1" cy="1717.9" r="3.6"/><circle cx="455.4" cy="1718.6" r="3.6"/><circle cx="457.6" cy="1719.0" r="3.6"/><circle cx="459.9" cy="1719.1" r="3.6"/><circle cx="462.1" cy="1718.9" r="3.6"/><circle cx="464.4" cy="1718.5" r="3.6"/><circle cx="466.6" cy="1717.9" r="3.6"/><circle cx="468.9" cy="1717.3" r="3.6"/><circle cx="471.1" cy="1716.9" r="3.6"/><circle cx="473.4" cy="1716.7" r="3.6"/><circle cx="475.6" cy="1716.8" r="3.6"/><circle cx="477.9" cy="1717.1" r="3.6"/><circle cx="480.1" cy="1717.6" r="3.6"/><circle cx="482.4" cy="1718.2" r="3.6"/><circle cx="484.6" cy="1718.8" r="3.6"/><circle cx="486.9" cy="1719.2" r="3.6"/><circle cx="489.1" cy="1719.4" r="3.6"/><circle cx="491.4" cy="1719.4" r="3.6"/><circle cx="493.6" cy="1719.3" r="3.6"/><circle cx="495.9" cy="1719.2" r="3.6"/><circle cx="498.1" cy="1718.9" r="3.6"/><circle cx="500.4" cy="1718.7" r="3.6"/><circle cx="502.6" cy="1718.5" r="3.6"/><circle cx="504.9" cy="1718.3" r="3.6"/><circle cx="507.1" cy="1718.2" r="3.6"/><circle cx="509.4" cy="1718.1" r="3.6"/><circle cx="511.6" cy="1718.2" r="3.6"/><circle cx="513.9" cy="1718.2" r="3.6"/><circle cx="516.1" cy="1718.3" r="3.6"/><circle cx="518.4" cy="1718.3" r="3.6"/><circle cx="520.6" cy="1718.4" r="3.6"/><circle cx="522.9" cy="1718.5" r="3.6"/><circle cx="525.1" cy="1718.6" r="3.6"/><circle cx="527.4" cy="1718.7" r="3.6"/><circle cx="529.6" cy="1718.8" r="3.6"/><circle cx="531.9" cy="1718.9" r="3.6"/><circle cx="534.1" cy="1718.9" r="3.6"/><circle cx="536.4" cy="1718.9" r="3.6"/><circle cx="538.6" cy="1718.9" r="3.6"/><circle cx="540.9" cy="1718.9" r="3.6"/><circle cx="543.1" cy="1718.9" r="3.6"/><circle cx="545.4" cy="1718.9" r="3.6"/><circle cx="547.6" cy="1718.9" r="3.6"/><circle cx="549.9" cy="1718.9" r="3.6"/><circle cx="552.1" cy="1718.9" r="3.6"/><circle cx="554.4" cy="1718.9" r="3.6"/><circle cx="556.6" cy="1718.9" r="3.6"/><circle cx="558.9" cy="1718.9" r="3.6"/><circle cx="561.1" cy="1718.9" r="3.6"/><circle cx="563.4" cy="1718.9" r="3.6"/><circle cx="565.6" cy="1718.9" r="3.6"/><circle cx="567.9" cy="1718.9" r="3.6"/><circle cx="570.1" cy="1718.9" r="3.6"/><circle cx="572.4" cy="1718.9" r="3.6"/><circle cx="574.6" cy="1718.9" r="3.6"/><circle cx="576.9" cy="1718.9" r="3.6"/><circle cx="579.1" cy="1718.9" r="3.6"/><circle cx="581.4" cy="1718.9" r="3.6"/><circle cx="583.6" cy="1718.9" r="3.6"/><circle cx="585.9" cy="1719.0" r="3.6"/><circle cx="588.1" cy="1719.0" r="3.6"/><circle cx="590.4" cy="1719.0" r="3.6"/><circle cx="592.6" cy="1719.0" r="3.6"/><circle cx="594.9" cy="1719.0" r="3.6"/><circle cx="597.1" cy="1719.0" r="3.6"/><circle cx="599.4" cy="1719.0" r="3.6"/><circle cx="601.6" cy="1718.9" r="3.6"/><circle cx="603.9" cy="1718.9" r="3.6"/><circle cx="606.1" cy="1718.9" r="3.6"/><circle cx="608.4" cy="1718.9" r="3.6"/><circle cx="610.6" cy="1718.9" r="3.6"/><circle cx="612.9" cy="1718.9" r="3.6"/><circle cx="615.1" cy="1718.9" r="3.6"/><circle cx="617.4" cy="1718.9" r="3.6"/><circle cx="619.6" cy="1718.9" r="3.6"/><circle cx="621.9" cy="1718.9" r="3.6"/><circle cx="624.1" cy="1718.9" r="3.6"/><circle cx="626.4" cy="1718.9" r="3.6"/><circle cx="628.6" cy="1718.9" r="3.6"/><circle cx="630.9" cy="1718.9" r="3.6"/><circle cx="633.1" cy="1718.9" r="3.6"/><circle cx="635.4" cy="1718.9" r="3.6"/><circle cx="637.6" cy="1718.9" r="3.6"/><circle cx="639.9" cy="1718.9" r="3.6"/><circle cx="642.1" cy="1718.9" r="3.6"/><circle cx="644.4" cy="1718.9" r="3.6"/><circle cx="646.6" cy="1718.9" r="3.6"/><circle cx="648.9" cy="1718.9" r="3.6"/><circle cx="651.1" cy="1718.9" r="3.6"/><circle cx="653.4" cy="1718.9" r="3.6"/><circle cx="655.6" cy="1718.9" r="3.6"/><circle cx="657.9" cy="1718.9" r="3.6"/><circle cx="660.1" cy="1718.9" r="3.6"/><circle cx="662.4" cy="1718.9" r="3.6"/><circle cx="664.6" cy="1718.9" r="3.6"/><circle cx="666.9" cy="1718.9" r="3.6"/><circle cx="669.1" cy="1718.9" r="3.6"/><circle cx="671.4" cy="1718.9" r="3.6"/><circle cx="673.6" cy="1718.9" r="3.6"/><circle cx="675.9" cy="1718.9" r="3.6"/><circle cx="678.1" cy="1718.9" r="3.6"/><circle cx="680.4" cy="1718.9" r="3.6"/><circle cx="682.6" cy="1718.9" r="3.6"/><circle cx="684.9" cy="1718.9" r="3.6"/><circle cx="687.1" cy="1718.9" r="3.6"/><circle cx="689.4" cy="1718.9" r="3.6"/><circle cx="691.6" cy="1718.9" r="3.6"/><circle cx="693.9" cy="1718.9" r="3.6"/><circle cx="696.1" cy="1718.9" r="3.6"/><circle cx="698.4" cy="1718.9" r="3.6"/><circle cx="700.6" cy="1718.9" r="3.6"/><circle cx="702.9" cy="1718.9" r="3.6"/><circle cx="705.1" cy="1718.9" r="3.6"/></g>
<rect x="104.2" y="1283.0" width="603.6" height="484.7" fill="none" stroke="#000" stroke-width="4" stroke-linejoin="miter"/>
<line x1="104.2" y1="1331.3" x2="114.2" y2="1331.3" stroke="#000" stroke-width="4" stroke-linecap="butt"/>
<line x1="104.2" y1="1525.6" x2="114.2" y2="1525.6" stroke="#000" stroke-width="4" stroke-linecap="butt"/>
<line x1="104.2" y1="1719.8" x2="114.2" y2="1719.8" stroke="#000" stroke-width="4" stroke-linecap="butt"/>
<line x1="104.2" y1="1428.4" x2="109.2" y2="1428.4" stroke="#000" stroke-width="4" stroke-linecap="butt"/>
<line x1="104.2" y1="1622.7" x2="109.2" y2="1622.7" stroke="#000" stroke-width="4" stroke-linecap="butt"/>
<line x1="255.0" y1="1767.7" x2="255.0" y2="1757.7" stroke="#000" stroke-width="4" stroke-linecap="butt"/>
<line x1="405.5" y1="1767.7" x2="405.5" y2="1757.7" stroke="#000" stroke-width="4" stroke-linecap="butt"/>
<line x1="556.5" y1="1767.7" x2="556.5" y2="1757.7" stroke="#000" stroke-width="4" stroke-linecap="butt"/>
<line x1="180.0" y1="1767.7" x2="180.0" y2="1762.7" stroke="#000" stroke-width="4" stroke-linecap="butt"/>
<line x1="330.5" y1="1767.7" x2="330.5" y2="1762.7" stroke="#000" stroke-width="4" stroke-linecap="butt"/>
<line x1="481.0" y1="1767.7" x2="481.0" y2="1762.7" stroke="#000" stroke-width="4" stroke-linecap="butt"/>
<line x1="632.0" y1="1767.7" x2="632.0" y2="1762.7" stroke="#000" stroke-width="4" stroke-linecap="butt"/>
<text x="90.0" y="1341.3" font-size="29.5" text-anchor="end" >8</text>
<text x="90.0" y="1535.6" font-size="29.5" text-anchor="end" >4</text>
<text x="90.0" y="1729.8" font-size="29.5" text-anchor="end" >0</text>
<text x="104.0" y="1803.5" font-size="29.5" text-anchor="middle" >0</text>
<text x="255.0" y="1803.5" font-size="29.5" text-anchor="middle" >2</text>
<text x="405.5" y="1803.5" font-size="29.5" text-anchor="middle" >4</text>
<text x="556.5" y="1803.5" font-size="29.5" text-anchor="middle" >6</text>
<text x="708.0" y="1803.5" font-size="29.5" text-anchor="middle" >8</text>
<text x="406" y="1842" font-size="29" text-anchor="middle"><tspan font-style="italic">R</tspan> (&#197;)</text>
<line x1="323.5" y1="1333.5" x2="378.5" y2="1333.5" stroke="#000" stroke-width="5" stroke-linecap="butt"/>
<circle cx="351.5" cy="1390" r="3.9" fill="#fff" stroke="#e0302c" stroke-width="1.1"/>
<text x="391.0" y="1343.0" font-size="25" text-anchor="start" >N-Cu(BDC)</text>
<text x="391.0" y="1399.5" font-size="25" text-anchor="start" >Fit</text>
<text x="0" y="0" font-size="29" text-anchor="middle" transform="translate(47.5,1525.7) rotate(-90)">FT (<tspan font-style="italic">k</tspan><tspan font-size="19" dy="-11">3</tspan><tspan dy="11"> &#967;(</tspan><tspan font-style="italic">k</tspan>))</text>
<text x="750.0" y="1288.5" font-size="42" text-anchor="start" font-weight="bold" >f</text>
<path d="M843.1,1730.9 C846.0,1730.7 854.3,1729.8 860.6,1729.9 C867.0,1730.0 874.4,1731.2 881.3,1731.3 C888.1,1731.5 895.0,1731.2 901.9,1730.9 C908.8,1730.7 915.7,1730.2 922.5,1729.9 C929.4,1729.5 936.3,1729.2 943.2,1728.9 C950.0,1728.5 957.6,1728.3 963.8,1727.8 C970.0,1727.3 974.8,1727.0 980.3,1725.8 C985.8,1724.6 992.0,1722.2 996.8,1720.6 C1001.6,1719.1 1006.1,1717.9 1009.2,1716.5 C1012.3,1715.1 1013.3,1714.1 1015.4,1712.4 C1017.4,1710.6 1019.5,1708.2 1021.6,1706.2 C1023.6,1704.1 1025.9,1704.1 1027.8,1700.0 C1029.6,1695.8 1031.4,1690.3 1032.9,1681.4 C1034.5,1672.5 1035.8,1657.3 1037.0,1646.3 C1038.2,1635.3 1039.1,1624.8 1040.1,1615.4 C1041.2,1605.9 1042.2,1592.0 1043.2,1589.6 C1044.3,1587.2 1045.1,1593.2 1046.3,1600.9 C1047.5,1608.7 1048.9,1626.9 1050.5,1636.0 C1052.0,1645.1 1054.2,1653.9 1055.6,1655.6 C1057.0,1657.3 1057.5,1653.0 1058.7,1646.3 C1059.9,1639.6 1061.1,1627.1 1062.8,1615.4 C1064.6,1603.7 1067.1,1581.3 1069.0,1576.2 C1070.9,1571.0 1072.5,1577.9 1074.2,1584.4 C1075.9,1591.0 1077.6,1605.1 1079.3,1615.4 C1081.1,1625.7 1082.4,1636.0 1084.5,1646.3 C1086.6,1656.6 1088.8,1669.7 1091.7,1677.3 C1094.6,1684.8 1099.3,1688.6 1102.0,1691.7 C1104.8,1694.8 1106.2,1694.0 1108.2,1695.8 C1110.3,1697.7 1112.7,1702.2 1114.4,1703.1 C1116.1,1703.9 1116.8,1700.3 1118.5,1701.0 C1120.3,1701.7 1122.3,1707.7 1124.7,1707.2 C1127.1,1706.7 1131.4,1699.7 1133.0,1697.9 C1134.6,1696.1 1133.5,1701.9 1134.5,1696.4 C1135.4,1691.0 1137.6,1668.2 1138.9,1665.2 C1140.2,1662.3 1141.0,1671.5 1142.3,1678.6 C1143.6,1685.7 1144.7,1701.4 1146.7,1707.6 C1148.8,1713.7 1152.1,1715.4 1154.5,1715.4 C1156.9,1715.4 1159.3,1710.0 1161.2,1707.6 C1163.1,1705.1 1164.2,1703.5 1165.7,1700.9 C1167.1,1698.3 1168.6,1694.6 1170.1,1692.0 C1171.6,1689.4 1172.9,1689.0 1174.6,1685.3 C1176.2,1681.6 1178.1,1671.5 1180.1,1669.7 C1182.2,1667.8 1185.2,1676.0 1186.8,1674.1 C1188.5,1672.3 1188.9,1666.7 1190.2,1658.5 C1191.5,1650.4 1193.1,1639.2 1194.6,1625.1 C1196.1,1611.0 1197.8,1589.5 1199.1,1573.9 C1200.4,1558.3 1201.2,1540.8 1202.4,1531.5 C1203.6,1522.2 1204.9,1517.4 1206.2,1518.2 C1207.5,1518.9 1208.8,1526.3 1210.2,1536.0 C1211.6,1545.6 1213.2,1563.1 1214.7,1576.1 C1216.2,1589.1 1217.5,1600.2 1219.1,1614.0 C1220.8,1627.7 1222.5,1645.9 1224.7,1658.5 C1226.9,1671.2 1229.7,1682.3 1232.5,1689.7 C1235.3,1697.2 1238.4,1699.9 1241.4,1703.1 C1244.4,1706.3 1247.4,1707.2 1250.3,1708.7 C1253.3,1710.2 1256.8,1712.9 1259.2,1712.0 C1261.7,1711.1 1262.6,1703.1 1264.8,1703.1 C1267.0,1703.1 1269.5,1710.2 1272.6,1712.0 C1275.8,1713.9 1280.8,1714.4 1283.8,1714.2 C1286.7,1714.1 1287.5,1710.0 1290.4,1710.9 C1293.4,1711.8 1297.5,1717.6 1301.6,1719.8 C1305.7,1722.0 1310.1,1723.3 1314.9,1724.3 C1319.8,1725.2 1325.7,1725.4 1330.5,1725.4 C1335.4,1725.4 1340.6,1727.8 1343.9,1724.3 C1347.3,1720.7 1348.4,1704.2 1350.6,1704.2 C1352.8,1704.2 1354.7,1720.9 1357.3,1724.3 C1359.9,1727.6 1363.4,1724.8 1366.2,1724.3 C1369.0,1723.7 1371.4,1728.2 1374.0,1720.9 C1376.6,1713.7 1379.4,1681.2 1381.8,1680.8 C1384.2,1680.5 1385.9,1711.5 1388.5,1718.7 C1391.1,1725.9 1394.2,1724.3 1397.4,1724.3 C1400.6,1724.3 1404.1,1718.7 1407.4,1718.7 C1410.8,1718.7 1413.9,1723.0 1417.5,1724.3 C1421.0,1725.6 1425.6,1728.5 1428.6,1726.5 C1431.6,1724.5 1433.1,1711.8 1435.3,1712.0 C1437.5,1712.2 1440.3,1725.0 1442.0,1727.6 C1443.6,1730.2 1444.7,1727.6 1445.3,1727.6" fill="none" stroke="#000" stroke-width="4.5" stroke-linejoin="round" stroke-linecap="round" />
<path d="M843.1,1606.1 C846.0,1605.9 854.3,1605.1 860.6,1605.1 C867.0,1605.1 874.4,1606.1 881.3,1606.1 C888.1,1606.1 896.1,1605.2 901.9,1605.1 C907.7,1604.9 912.9,1605.2 916.3,1605.1 C919.8,1604.9 919.8,1604.2 922.5,1604.0 C925.3,1603.9 929.4,1604.2 932.8,1604.0 C936.3,1603.9 939.4,1603.2 943.2,1603.0 C946.9,1602.8 951.4,1603.3 955.5,1603.0 C959.7,1602.7 963.8,1601.6 967.9,1600.9 C972.0,1600.2 976.2,1599.9 980.3,1598.9 C984.4,1597.8 988.6,1595.8 992.7,1594.7 C996.8,1593.7 1001.6,1593.9 1005.1,1592.7 C1008.5,1591.5 1010.6,1589.2 1013.3,1587.5 C1016.1,1585.8 1019.2,1583.7 1021.6,1582.4 C1024.0,1581.0 1025.9,1581.7 1027.8,1579.3 C1029.6,1576.9 1031.4,1572.9 1032.9,1567.9 C1034.5,1562.9 1035.8,1556.9 1037.0,1549.4 C1038.2,1541.8 1039.1,1531.6 1040.1,1522.5 C1041.2,1513.4 1042.2,1497.1 1043.2,1494.7 C1044.3,1492.3 1045.3,1501.4 1046.3,1508.1 C1047.4,1514.8 1048.0,1528.4 1049.4,1534.9 C1050.8,1541.4 1053.0,1546.9 1054.6,1547.3 C1056.1,1547.6 1057.5,1543.9 1058.7,1537.0 C1059.9,1530.1 1060.4,1515.3 1061.8,1506.0 C1063.2,1496.7 1065.4,1484.0 1067.0,1481.3 C1068.5,1478.5 1069.5,1484.0 1071.1,1489.5 C1072.6,1495.0 1074.5,1505.3 1076.2,1514.3 C1078.0,1523.2 1079.7,1534.9 1081.4,1543.2 C1083.1,1551.4 1084.5,1559.2 1086.6,1563.8 C1088.6,1568.4 1091.5,1569.6 1093.8,1571.0 C1096.0,1572.4 1097.9,1571.0 1100.0,1572.0 C1102.0,1573.1 1103.8,1575.1 1106.2,1577.2 C1108.6,1579.3 1112.4,1583.6 1114.4,1584.4 C1116.5,1585.3 1116.8,1581.8 1118.5,1582.4 C1120.3,1582.9 1122.3,1588.2 1124.7,1587.5 C1127.1,1586.8 1131.4,1580.1 1133.0,1578.2 C1134.6,1576.3 1133.5,1580.0 1134.5,1576.1 C1135.4,1572.2 1137.6,1556.8 1138.9,1554.9 C1140.2,1553.1 1141.1,1560.7 1142.3,1564.9 C1143.4,1569.2 1143.6,1576.6 1145.6,1580.5 C1147.6,1584.4 1152.3,1588.0 1154.5,1588.3 C1156.7,1588.7 1157.1,1584.8 1159.0,1582.8 C1160.8,1580.7 1163.8,1578.3 1165.7,1576.1 C1167.5,1573.9 1168.6,1571.3 1170.1,1569.4 C1171.6,1567.5 1173.1,1567.0 1174.6,1564.9 C1176.1,1562.9 1177.2,1558.5 1179.0,1557.2 C1180.9,1555.9 1183.9,1559.9 1185.7,1557.2 C1187.6,1554.4 1188.7,1547.7 1190.2,1540.4 C1191.6,1533.2 1193.1,1525.6 1194.6,1513.7 C1196.1,1501.8 1197.8,1484.0 1199.1,1469.1 C1200.4,1454.3 1201.2,1435.3 1202.4,1424.6 C1203.6,1413.8 1204.9,1404.5 1206.2,1404.5 C1207.5,1404.5 1208.8,1413.8 1210.2,1424.6 C1211.6,1435.3 1213.2,1455.0 1214.7,1469.1 C1216.2,1483.2 1217.5,1497.4 1219.1,1509.2 C1220.8,1521.1 1222.5,1530.8 1224.7,1540.4 C1226.9,1550.1 1229.7,1561.1 1232.5,1567.2 C1235.3,1573.3 1238.4,1574.8 1241.4,1577.2 C1244.4,1579.6 1247.4,1580.7 1250.3,1581.7 C1253.3,1582.6 1256.8,1583.3 1259.2,1582.8 C1261.7,1582.2 1262.6,1578.3 1264.8,1578.3 C1267.0,1578.3 1269.1,1581.8 1272.6,1582.8 C1276.1,1583.7 1282.6,1583.9 1286.0,1583.9 C1289.3,1583.9 1290.1,1582.0 1292.7,1582.8 C1295.3,1583.5 1297.9,1586.9 1301.6,1588.3 C1305.3,1589.8 1310.1,1590.9 1314.9,1591.7 C1319.8,1592.4 1325.7,1592.8 1330.5,1592.8 C1335.4,1592.8 1340.6,1593.7 1343.9,1591.7 C1347.3,1589.6 1348.4,1580.4 1350.6,1580.5 C1352.8,1580.7 1355.1,1590.4 1357.3,1592.8 C1359.5,1595.2 1361.0,1595.2 1364.0,1595.0 C1366.9,1594.8 1372.1,1596.3 1375.1,1591.7 C1378.1,1587.0 1379.6,1567.9 1381.8,1567.2 C1384.0,1566.4 1385.9,1583.0 1388.5,1587.2 C1391.1,1591.5 1394.2,1592.2 1397.4,1592.8 C1400.6,1593.4 1404.1,1590.2 1407.4,1590.6 C1410.8,1590.9 1413.9,1593.9 1417.5,1595.0 C1421.0,1596.1 1425.6,1598.6 1428.6,1597.3 C1431.6,1596.0 1433.2,1587.0 1435.3,1587.2 C1437.3,1587.4 1439.2,1596.3 1440.8,1598.4 C1442.5,1600.4 1444.6,1599.3 1445.3,1599.5" fill="none" stroke="#d8272a" stroke-width="4.5" stroke-linejoin="round" stroke-linecap="round" />
<rect x="1056" y="1474" width="25.5" height="196" rx="3" fill="none" stroke="#2a52a6" stroke-width="6" stroke-dasharray="6 14.4"/>
<line x1="1002.6" y1="1445.4" x2="1030.2" y2="1461.6" stroke="#000" stroke-width="5.5" stroke-linecap="butt"/>
<polygon points="1049.6,1472.9 1025.5,1465.7 1031.5,1455.4" fill="#000" stroke="#000" stroke-width="5.0" stroke-linejoin="round"/>
<rect x="842.3" y="1282.0" width="603.2" height="485.5" fill="none" stroke="#000" stroke-width="4" stroke-linejoin="miter"/>
<line x1="1083.0" y1="1767.5" x2="1083.0" y2="1757.5" stroke="#000" stroke-width="4" stroke-linecap="butt"/>
<line x1="1324.5" y1="1767.5" x2="1324.5" y2="1757.5" stroke="#000" stroke-width="4" stroke-linecap="butt"/>
<line x1="963.0" y1="1767.5" x2="963.0" y2="1762.5" stroke="#000" stroke-width="4" stroke-linecap="butt"/>
<line x1="1203.5" y1="1767.5" x2="1203.5" y2="1762.5" stroke="#000" stroke-width="4" stroke-linecap="butt"/>
<text x="843.0" y="1803.5" font-size="29.5" text-anchor="middle" >2000</text>
<text x="1083.0" y="1803.5" font-size="29.5" text-anchor="middle" >1600</text>
<text x="1324.5" y="1803.5" font-size="29.5" text-anchor="middle" >1200</text>
<text x="1143" y="1839" font-size="29" text-anchor="middle">Wavenumber (cm<tspan font-size="20" dy="-13">&#8722;1</tspan><tspan dy="13">)</tspan></text>
<line x1="1132.0" y1="1316.0" x2="1188.0" y2="1316.0" stroke="#d8272a" stroke-width="5" stroke-linecap="butt"/>
<line x1="1132.0" y1="1381.5" x2="1188.0" y2="1381.5" stroke="#000" stroke-width="5" stroke-linecap="butt"/>
<text x="1198.5" y="1325.5" font-size="25" text-anchor="start" >N-Cu(BDC)</text>
<text x="1198.5" y="1391.0" font-size="25" text-anchor="start" >B-Cu(BDC)</text>
<text x="952.0" y="1397.0" font-size="25" text-anchor="start" >O-C-O</text>
<text x="0" y="0" font-size="29" text-anchor="middle" transform="translate(831.0,1517.0) rotate(-90)" >Absorbance</text>
</svg></body></html>
